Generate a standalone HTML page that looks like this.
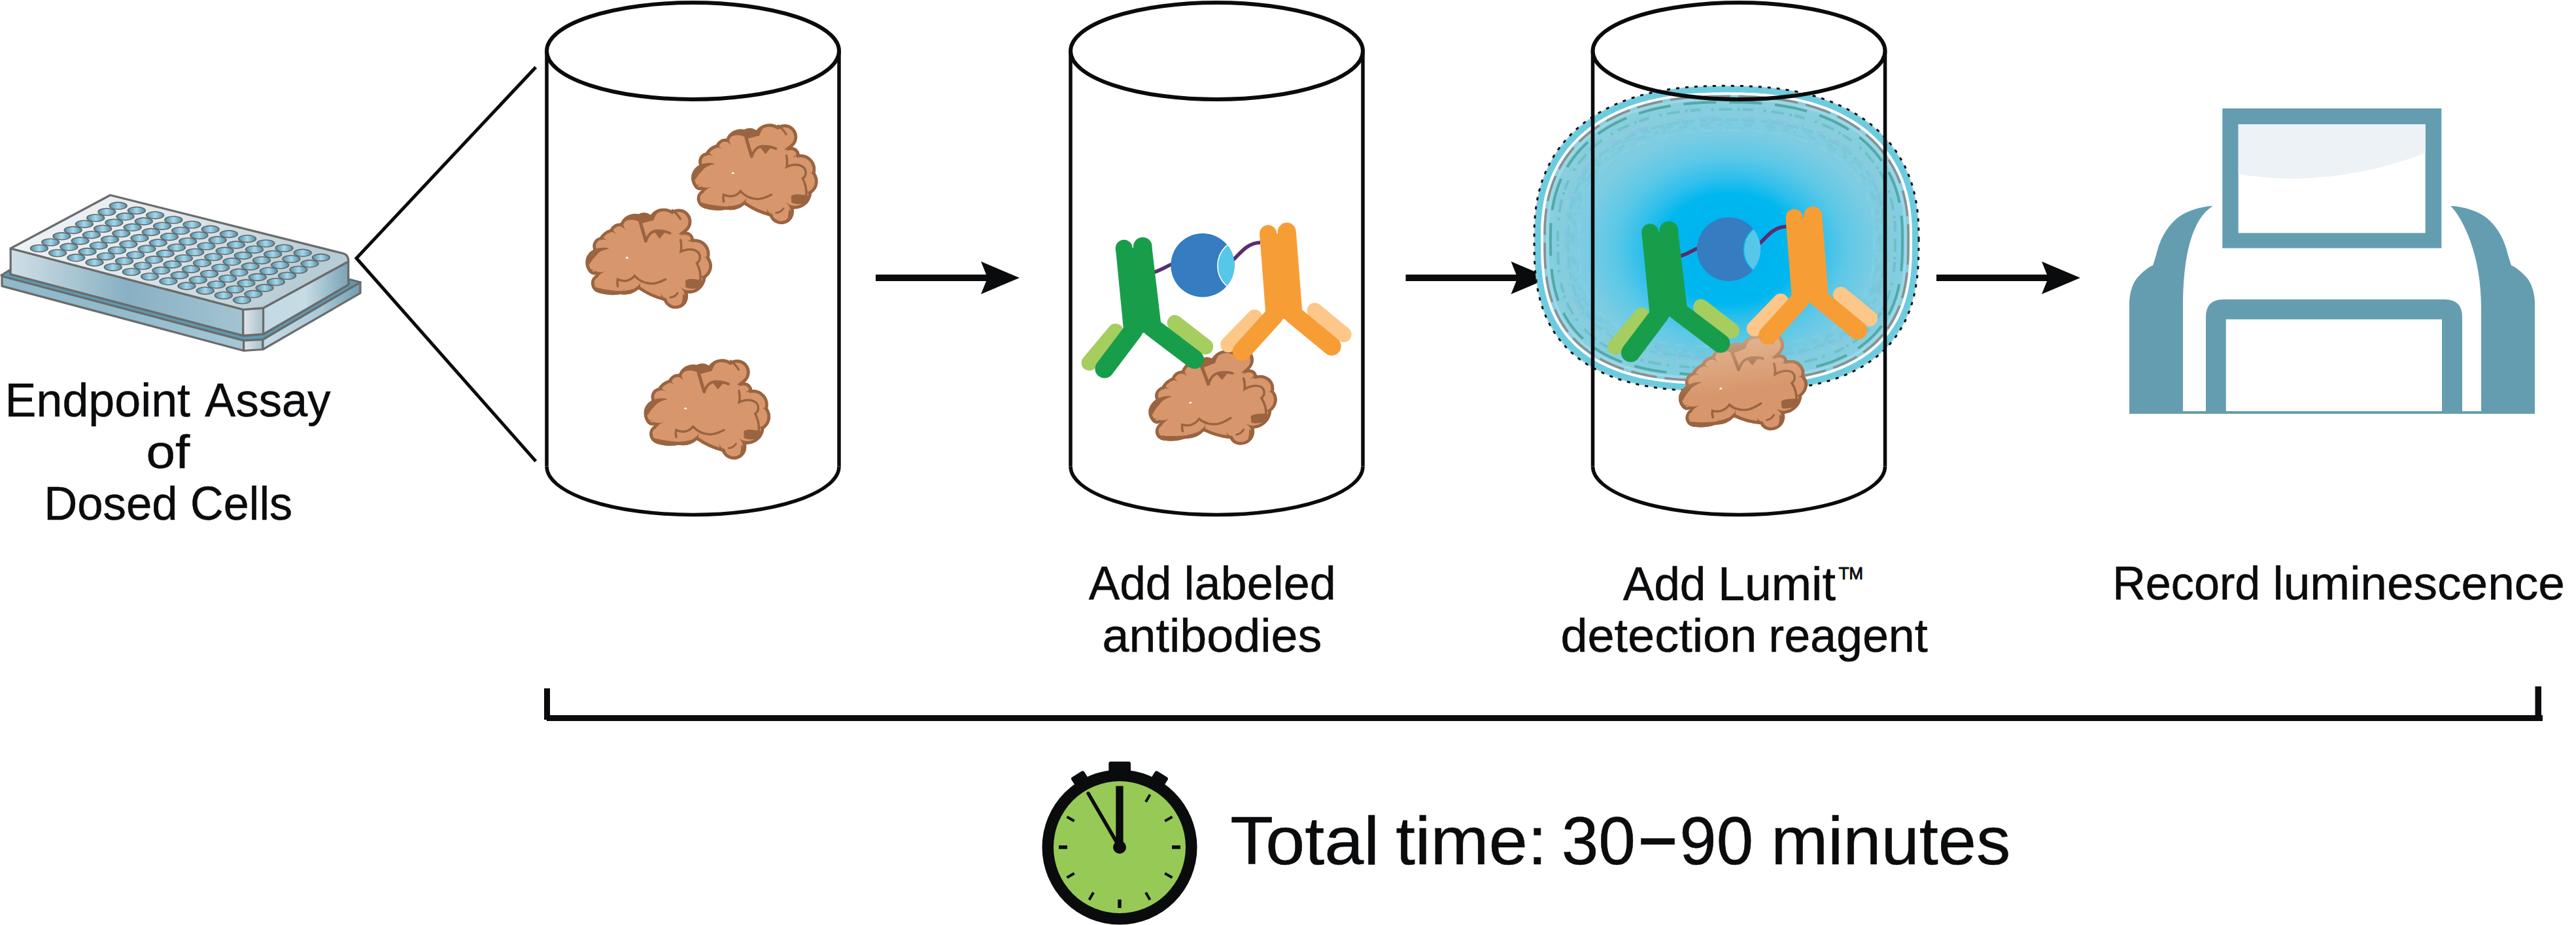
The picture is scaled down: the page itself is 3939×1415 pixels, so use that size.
<!DOCTYPE html>
<html><head><meta charset="utf-8"><style>
html,body{margin:0;padding:0;background:#fff;overflow:hidden}
svg{display:block}
text{font-family:"Liberation Sans",sans-serif}
</style></head><body>
<svg width="3939" height="1415" viewBox="0 0 3939 1415">
<defs>
<linearGradient id="wellg" x1="0" x2="1" y1="0" y2="0">
 <stop offset="0" stop-color="#4f8fa8"/><stop offset="0.5" stop-color="#a6d8ec"/><stop offset="1" stop-color="#4f8fa8"/>
</linearGradient>
<linearGradient id="topg" x1="0" x2="1" y1="0" y2="0.3">
 <stop offset="0" stop-color="#f2f6f8"/><stop offset="0.5" stop-color="#dfe8ec"/><stop offset="1" stop-color="#b8ccd5"/>
</linearGradient>
<linearGradient id="frontg" gradientUnits="userSpaceOnUse" x1="16" x2="372" y1="0" y2="0">
 <stop offset="0" stop-color="#d0dfe6"/><stop offset="0.5" stop-color="#88b0c3"/><stop offset="1" stop-color="#a3c4d2"/>
</linearGradient>
<linearGradient id="chamg" gradientUnits="userSpaceOnUse" x1="372" x2="402" y1="0" y2="0">
 <stop offset="0" stop-color="#e1e6ea"/><stop offset="1" stop-color="#a9bfca"/>
</linearGradient>
<linearGradient id="rightg" gradientUnits="userSpaceOnUse" x1="402" x2="533" y1="0" y2="0">
 <stop offset="0" stop-color="#c3dae4"/><stop offset="0.5" stop-color="#c6dbe4"/><stop offset="1" stop-color="#79a3b6"/>
</linearGradient>
<linearGradient id="skirtg" gradientUnits="userSpaceOnUse" x1="3" x2="372" y1="0" y2="0">
 <stop offset="0" stop-color="#8fb9cb"/><stop offset="0.5" stop-color="#92bbcc"/><stop offset="1" stop-color="#a6c8d6"/>
</linearGradient>
<linearGradient id="skirtrg" gradientUnits="userSpaceOnUse" x1="402" x2="551" y1="0" y2="0">
 <stop offset="0" stop-color="#c8dde6"/><stop offset="0.6" stop-color="#a9c9d6"/><stop offset="1" stop-color="#6e9fb4"/>
</linearGradient>
<clipPath id="blobclip"><path d="M60.0,570.0 A118.8,118.8 0 0 1 105.0,395.0 A76.0,76.0 0 0 1 160.0,290.0 A141.4,141.4 0 0 1 245.0,225.0 A82.0,82.0 0 0 1 330.0,175.0 A128.0,128.0 0 0 1 480.0,100.0 A95.2,95.2 0 0 1 580.0,105.0 A135.5,135.5 0 0 1 760.0,70.0 A106.3,106.3 0 0 1 880.0,245.0 A65.6,65.6 0 0 1 940.0,305.0 A125.0,125.0 0 0 1 1070.0,460.0 A120.4,120.4 0 0 1 1040.0,630.0 A141.1,141.1 0 0 1 890.0,760.0 A104.7,104.7 0 0 1 690.0,820.0 A630.0,630.0 0 0 1 480.0,725.0 A178.9,178.9 0 0 1 330.0,765.0 A361.2,361.2 0 0 1 150.0,755.0 A83.3,83.3 0 0 1 130.0,600.0 A53.6,53.6 0 0 1 60.0,570.0Z"/></clipPath><g id="blob">
<path d="M60.0,570.0 A118.8,118.8 0 0 1 105.0,395.0 A76.0,76.0 0 0 1 160.0,290.0 A141.4,141.4 0 0 1 245.0,225.0 A82.0,82.0 0 0 1 330.0,175.0 A128.0,128.0 0 0 1 480.0,100.0 A95.2,95.2 0 0 1 580.0,105.0 A135.5,135.5 0 0 1 760.0,70.0 A106.3,106.3 0 0 1 880.0,245.0 A65.6,65.6 0 0 1 940.0,305.0 A125.0,125.0 0 0 1 1070.0,460.0 A120.4,120.4 0 0 1 1040.0,630.0 A141.1,141.1 0 0 1 890.0,760.0 A104.7,104.7 0 0 1 690.0,820.0 A630.0,630.0 0 0 1 480.0,725.0 A178.9,178.9 0 0 1 330.0,765.0 A361.2,361.2 0 0 1 150.0,755.0 A83.3,83.3 0 0 1 130.0,600.0 A53.6,53.6 0 0 1 60.0,570.0Z" fill="#d8966c" stroke="#9a6440" stroke-width="52" clip-path="url(#blobclip)"/>
<g clip-path="url(#blobclip)" fill="#9a6440">
<path d="M35,470 C60,430 90,410 110,395 C150,375 200,372 235,385 C200,395 160,405 140,430 C100,470 80,500 70,520 Z"/>
<path d="M330,175 C380,140 430,110 480,100 C520,95 560,110 585,110 C600,80 630,62 660,60 C630,90 615,120 605,150 C560,160 530,170 505,175 C470,150 430,140 390,150 C360,160 340,180 330,185 Z"/>
<path d="M870,650 C900,630 960,640 1010,650 L1010,705 C960,725 900,722 872,708 Z"/>
<path d="M143.4,313.7 Q175.9,300.8 222.5,319.2 Q178.5,295.3 167.5,262.1 Z"/><path d="M225.0,241.6 Q256.3,238.1 293.8,264.8 Q260.1,233.4 257.3,202.1 Z"/><path d="M302.8,188.6 Q339.4,192.9 372.4,233.2 Q344.2,189.4 351.3,153.3 Z"/><path d="M457.0,99.0 Q479.6,115.3 489.9,156.1 Q485.6,114.3 501.3,91.2 Z"/><path d="M867.4,217.3 Q861.7,253.7 820.2,285.1 Q865.1,258.6 900.9,267.1 Z"/><path d="M934.8,279.5 Q923.2,308.8 881.9,329.3 Q925.5,314.3 954.4,326.6 Z"/><path d="M1074.6,440.4 Q1056.9,457.2 1019.0,461.0 Q1057.1,463.2 1075.4,479.4 Z"/><path d="M1053.1,605.8 Q1023.8,621.6 977.2,609.7 Q1021.9,627.3 1036.5,657.2 Z"/><path d="M917.0,735.7 Q873.6,742.3 825.7,706.0 Q869.7,746.9 870.7,790.8 Z"/><path d="M719.6,813.1 Q685.1,800.4 662.4,753.5 Q679.6,802.7 664.2,836.1 Z"/><path d="M504.9,736.5 Q487.4,708.3 496.3,661.0 Q481.5,706.8 452.6,723.2 Z"/><path d="M342.8,780.5 Q340.1,756.3 360.0,723.8 Q335.2,752.7 311.3,757.6 Z"/><path d="M157.4,773.7 Q162.3,749.8 191.4,725.2 Q158.8,745.0 134.5,742.1 Z"/><path d="M135.1,633.0 Q151.9,596.3 204.4,576.7 Q150.1,590.6 115.4,570.0 Z"/><path d="M96.3,416.3 Q119.3,400.5 161.2,404.6 Q120.3,394.6 103.9,372.0 Z"/><path d="M59.6,593.0 Q75.3,569.9 115.8,558.5 Q74.1,564.0 50.6,549.0 Z"/>
<path d="M100,700 C150,720 250,735 330,740 C400,735 440,720 480,712 L480,780 L100,780 Z"/>
<path d="M850,760 C870,780 880,800 890,830 L890,880 L820,880 C840,850 850,810 850,760 Z"/>
</g>
<path d="M495,168 L540,322" fill="none" stroke="#9a6440" stroke-width="27" stroke-linecap="round"/>
<path d="M540,322 C565,265 590,240 630,238 C675,236 715,245 742,258" fill="none" stroke="#9a6440" stroke-width="22" stroke-linecap="round"/>
<path d="M612,246 L700,250 L655,304 Z" fill="#9a6440"/>
<path d="M762,66 C790,85 810,110 828,138" fill="none" stroke="#9a6440" stroke-width="18" stroke-linecap="round"/>
<path d="M830,315 C838,350 838,380 832,410 C880,385 940,385 975,415 C1000,445 995,490 965,505" fill="none" stroke="#9a6440" stroke-width="19" stroke-linecap="round"/>
<path d="M965,505 C985,545 1000,600 995,650" fill="none" stroke="#9a6440" stroke-width="19" stroke-linecap="round"/>
<path d="M308,700 C303,680 303,660 307,642 C350,662 410,662 447,612 C480,650 540,682 600,677 C650,672 680,652 705,642" fill="none" stroke="#9a6440" stroke-width="19" stroke-linecap="round"/>
<path d="M745,792 C770,792 790,777 805,757" fill="none" stroke="#9a6440" stroke-width="17" stroke-linecap="round"/>
<path d="M370,468 L385,450 L400,468 Z" fill="#ffffff"/>
</g><g id="abs"><path d="M1762,417 C1775,414 1782,408 1792,404" fill="none" stroke="#5b2c6f" stroke-width="5.5"/><path d="M1884,399 C1895,390 1905,372 1927,371" fill="none" stroke="#5b2c6f" stroke-width="5.5"/><line x1="1705.8" y1="507" x2="1665.6" y2="555" stroke="#a5cd60" stroke-width="24" stroke-linecap="round"/><line x1="1796.6" y1="494" x2="1843.3" y2="530.3" stroke="#a5cd60" stroke-width="24" stroke-linecap="round"/><path d="M1705.8,379.8 L1761.5,378.5 L1775,492.7 L1748.6,509.5 L1718,504.3 Z" fill="#189e4a"/><circle cx="1718.7" cy="379.8" r="13" fill="#189e4a"/><circle cx="1747.3" cy="377.2" r="14.3" fill="#189e4a"/><line x1="1733" y1="505.6" x2="1688.9" y2="564" stroke="#189e4a" stroke-width="29" stroke-linecap="round"/><line x1="1761.5" y1="500.5" x2="1826.4" y2="549.7" stroke="#189e4a" stroke-width="29" stroke-linecap="round"/><line x1="1918.4" y1="485.6" x2="1878.2" y2="527.1" stroke="#fcc789" stroke-width="24" stroke-linecap="round"/><line x1="2010.5" y1="475.3" x2="2054.6" y2="511.6" stroke="#fcc789" stroke-width="24" stroke-linecap="round"/><path d="M1926.1,358.5 L1981.9,356 L1991,472.7 L1963.8,488.2 L1935.2,477.9 Z" fill="#f79d36"/><circle cx="1939.1" cy="357.2" r="13" fill="#f79d36"/><circle cx="1967.7" cy="354.6" r="14" fill="#f79d36"/><line x1="1948.2" y1="483" x2="1898.9" y2="537.5" stroke="#f79d36" stroke-width="28.5" stroke-linecap="round"/><line x1="1976.7" y1="480.5" x2="2036.4" y2="529.7" stroke="#f79d36" stroke-width="28.5" stroke-linecap="round"/><circle cx="1839" cy="405.8" r="48.7" fill="#357cc0"/><clipPath id="cc1"><circle cx="1839" cy="405.8" r="48.7"/></clipPath><circle cx="1903" cy="406.5" r="41.2" fill="#56c7e8" stroke="currentColor" stroke-width="1.6" clip-path="url(#cc1)"/></g><linearGradient id="blobfade" x1="0" y1="0" x2="0" y2="1"><stop offset="0" stop-color="#e8c8a8" stop-opacity="0.6"/><stop offset="0.55" stop-color="#e8c8a8" stop-opacity="0"/></linearGradient>
<radialGradient id="glow" cx="0.508" cy="0.533" r="0.5">
<stop offset="0" stop-color="#00b3ef"/><stop offset="0.36" stop-color="#00b7ef"/><stop offset="0.46" stop-color="#2ebfec"/><stop offset="0.6" stop-color="#5cc8e7"/><stop offset="0.76" stop-color="#7bcce2"/><stop offset="0.9" stop-color="#84cee0"/><stop offset="1" stop-color="#8acfde"/>
</radialGradient></defs>
<rect width="3939" height="1415" fill="#fff"/>
<g><path d="M2,421 L14,413.5 L16,419.5 L372,513.4 L402.6,511.2 L533,435.6 L533,427 L551,431.8 L402,519.5 L372.7,521 L3.8,423.8 Z" fill="#5c9ab3" stroke="#6b6b6b" stroke-width="3.2" stroke-linejoin="round"/><path d="M3,422.5 L372.7,521 L372.7,536.5 L3,437.6 Z" fill="url(#skirtg)" stroke="#6b6b6b" stroke-width="3.2" stroke-linejoin="round"/><path d="M372.7,521 L402,519.5 L402,534.5 L372.7,536.5 Z" fill="url(#chamg)" stroke="#6b6b6b" stroke-width="3.2" stroke-linejoin="round"/><path d="M402,519.5 L551,431.8 L551,448.4 L402,534.5 Z" fill="url(#skirtrg)" stroke="#6b6b6b" stroke-width="3.2" stroke-linejoin="round"/><path d="M16.2,380 L371.8,473.5 L371.8,513.4 L16.2,419.5 Z" fill="url(#frontg)" stroke="#6b6b6b" stroke-width="3.2" stroke-linejoin="round"/><path d="M371.8,473.5 L402.6,471.1 L402.6,511.2 L371.8,513.4 Z" fill="url(#chamg)" stroke="#6b6b6b" stroke-width="3.2" stroke-linejoin="round"/><path d="M402.6,471.1 L532.7,400 L532.7,435.6 L402.6,511.2 Z" fill="url(#rightg)" stroke="#6b6b6b" stroke-width="3.2" stroke-linejoin="round"/><path d="M168.6,298.5 L526,388 Q533,391 532.7,400 L402.6,471.1 L371.8,473.5 L16.2,380 Z" fill="url(#topg)" stroke="#6b6b6b" stroke-width="3.2" stroke-linejoin="round"/><ellipse cx="180.7" cy="314.8" rx="13.4" ry="5.4" fill="url(#wellg)" stroke="#666" stroke-width="1.6"/><ellipse cx="208.9" cy="322.0" rx="13.4" ry="5.4" fill="url(#wellg)" stroke="#666" stroke-width="1.6"/><ellipse cx="237.1" cy="329.2" rx="13.4" ry="5.4" fill="url(#wellg)" stroke="#666" stroke-width="1.6"/><ellipse cx="265.3" cy="336.4" rx="13.4" ry="5.4" fill="url(#wellg)" stroke="#666" stroke-width="1.6"/><ellipse cx="293.5" cy="343.6" rx="13.4" ry="5.4" fill="url(#wellg)" stroke="#666" stroke-width="1.6"/><ellipse cx="321.7" cy="350.8" rx="13.4" ry="5.4" fill="url(#wellg)" stroke="#666" stroke-width="1.6"/><ellipse cx="349.9" cy="358.0" rx="13.4" ry="5.4" fill="url(#wellg)" stroke="#666" stroke-width="1.6"/><ellipse cx="378.1" cy="365.2" rx="13.4" ry="5.4" fill="url(#wellg)" stroke="#666" stroke-width="1.6"/><ellipse cx="406.3" cy="372.4" rx="13.4" ry="5.4" fill="url(#wellg)" stroke="#666" stroke-width="1.6"/><ellipse cx="434.5" cy="379.6" rx="13.4" ry="5.4" fill="url(#wellg)" stroke="#666" stroke-width="1.6"/><ellipse cx="462.7" cy="386.8" rx="13.4" ry="5.4" fill="url(#wellg)" stroke="#666" stroke-width="1.6"/><ellipse cx="490.9" cy="394.0" rx="13.4" ry="5.4" fill="url(#wellg)" stroke="#666" stroke-width="1.6"/><ellipse cx="163.4" cy="324.1" rx="13.4" ry="5.4" fill="url(#wellg)" stroke="#666" stroke-width="1.6"/><ellipse cx="191.6" cy="331.3" rx="13.4" ry="5.4" fill="url(#wellg)" stroke="#666" stroke-width="1.6"/><ellipse cx="219.8" cy="338.5" rx="13.4" ry="5.4" fill="url(#wellg)" stroke="#666" stroke-width="1.6"/><ellipse cx="248.0" cy="345.7" rx="13.4" ry="5.4" fill="url(#wellg)" stroke="#666" stroke-width="1.6"/><ellipse cx="276.2" cy="352.9" rx="13.4" ry="5.4" fill="url(#wellg)" stroke="#666" stroke-width="1.6"/><ellipse cx="304.4" cy="360.1" rx="13.4" ry="5.4" fill="url(#wellg)" stroke="#666" stroke-width="1.6"/><ellipse cx="332.6" cy="367.3" rx="13.4" ry="5.4" fill="url(#wellg)" stroke="#666" stroke-width="1.6"/><ellipse cx="360.9" cy="374.5" rx="13.4" ry="5.4" fill="url(#wellg)" stroke="#666" stroke-width="1.6"/><ellipse cx="389.0" cy="381.7" rx="13.4" ry="5.4" fill="url(#wellg)" stroke="#666" stroke-width="1.6"/><ellipse cx="417.2" cy="388.9" rx="13.4" ry="5.4" fill="url(#wellg)" stroke="#666" stroke-width="1.6"/><ellipse cx="445.4" cy="396.1" rx="13.4" ry="5.4" fill="url(#wellg)" stroke="#666" stroke-width="1.6"/><ellipse cx="473.6" cy="403.3" rx="13.4" ry="5.4" fill="url(#wellg)" stroke="#666" stroke-width="1.6"/><ellipse cx="146.2" cy="333.4" rx="13.4" ry="5.4" fill="url(#wellg)" stroke="#666" stroke-width="1.6"/><ellipse cx="174.4" cy="340.6" rx="13.4" ry="5.4" fill="url(#wellg)" stroke="#666" stroke-width="1.6"/><ellipse cx="202.6" cy="347.8" rx="13.4" ry="5.4" fill="url(#wellg)" stroke="#666" stroke-width="1.6"/><ellipse cx="230.8" cy="355.0" rx="13.4" ry="5.4" fill="url(#wellg)" stroke="#666" stroke-width="1.6"/><ellipse cx="259.0" cy="362.2" rx="13.4" ry="5.4" fill="url(#wellg)" stroke="#666" stroke-width="1.6"/><ellipse cx="287.2" cy="369.4" rx="13.4" ry="5.4" fill="url(#wellg)" stroke="#666" stroke-width="1.6"/><ellipse cx="315.4" cy="376.6" rx="13.4" ry="5.4" fill="url(#wellg)" stroke="#666" stroke-width="1.6"/><ellipse cx="343.6" cy="383.8" rx="13.4" ry="5.4" fill="url(#wellg)" stroke="#666" stroke-width="1.6"/><ellipse cx="371.8" cy="391.0" rx="13.4" ry="5.4" fill="url(#wellg)" stroke="#666" stroke-width="1.6"/><ellipse cx="400.0" cy="398.2" rx="13.4" ry="5.4" fill="url(#wellg)" stroke="#666" stroke-width="1.6"/><ellipse cx="428.2" cy="405.4" rx="13.4" ry="5.4" fill="url(#wellg)" stroke="#666" stroke-width="1.6"/><ellipse cx="456.4" cy="412.6" rx="13.4" ry="5.4" fill="url(#wellg)" stroke="#666" stroke-width="1.6"/><ellipse cx="128.9" cy="342.7" rx="13.4" ry="5.4" fill="url(#wellg)" stroke="#666" stroke-width="1.6"/><ellipse cx="157.1" cy="349.9" rx="13.4" ry="5.4" fill="url(#wellg)" stroke="#666" stroke-width="1.6"/><ellipse cx="185.3" cy="357.1" rx="13.4" ry="5.4" fill="url(#wellg)" stroke="#666" stroke-width="1.6"/><ellipse cx="213.5" cy="364.3" rx="13.4" ry="5.4" fill="url(#wellg)" stroke="#666" stroke-width="1.6"/><ellipse cx="241.8" cy="371.5" rx="13.4" ry="5.4" fill="url(#wellg)" stroke="#666" stroke-width="1.6"/><ellipse cx="269.9" cy="378.7" rx="13.4" ry="5.4" fill="url(#wellg)" stroke="#666" stroke-width="1.6"/><ellipse cx="298.1" cy="385.9" rx="13.4" ry="5.4" fill="url(#wellg)" stroke="#666" stroke-width="1.6"/><ellipse cx="326.4" cy="393.1" rx="13.4" ry="5.4" fill="url(#wellg)" stroke="#666" stroke-width="1.6"/><ellipse cx="354.5" cy="400.3" rx="13.4" ry="5.4" fill="url(#wellg)" stroke="#666" stroke-width="1.6"/><ellipse cx="382.8" cy="407.5" rx="13.4" ry="5.4" fill="url(#wellg)" stroke="#666" stroke-width="1.6"/><ellipse cx="410.9" cy="414.7" rx="13.4" ry="5.4" fill="url(#wellg)" stroke="#666" stroke-width="1.6"/><ellipse cx="439.1" cy="421.9" rx="13.4" ry="5.4" fill="url(#wellg)" stroke="#666" stroke-width="1.6"/><ellipse cx="111.7" cy="352.0" rx="13.4" ry="5.4" fill="url(#wellg)" stroke="#666" stroke-width="1.6"/><ellipse cx="139.9" cy="359.2" rx="13.4" ry="5.4" fill="url(#wellg)" stroke="#666" stroke-width="1.6"/><ellipse cx="168.1" cy="366.4" rx="13.4" ry="5.4" fill="url(#wellg)" stroke="#666" stroke-width="1.6"/><ellipse cx="196.3" cy="373.6" rx="13.4" ry="5.4" fill="url(#wellg)" stroke="#666" stroke-width="1.6"/><ellipse cx="224.5" cy="380.8" rx="13.4" ry="5.4" fill="url(#wellg)" stroke="#666" stroke-width="1.6"/><ellipse cx="252.7" cy="388.0" rx="13.4" ry="5.4" fill="url(#wellg)" stroke="#666" stroke-width="1.6"/><ellipse cx="280.9" cy="395.2" rx="13.4" ry="5.4" fill="url(#wellg)" stroke="#666" stroke-width="1.6"/><ellipse cx="309.1" cy="402.4" rx="13.4" ry="5.4" fill="url(#wellg)" stroke="#666" stroke-width="1.6"/><ellipse cx="337.3" cy="409.6" rx="13.4" ry="5.4" fill="url(#wellg)" stroke="#666" stroke-width="1.6"/><ellipse cx="365.5" cy="416.8" rx="13.4" ry="5.4" fill="url(#wellg)" stroke="#666" stroke-width="1.6"/><ellipse cx="393.7" cy="424.0" rx="13.4" ry="5.4" fill="url(#wellg)" stroke="#666" stroke-width="1.6"/><ellipse cx="421.9" cy="431.2" rx="13.4" ry="5.4" fill="url(#wellg)" stroke="#666" stroke-width="1.6"/><ellipse cx="94.4" cy="361.3" rx="13.4" ry="5.4" fill="url(#wellg)" stroke="#666" stroke-width="1.6"/><ellipse cx="122.6" cy="368.5" rx="13.4" ry="5.4" fill="url(#wellg)" stroke="#666" stroke-width="1.6"/><ellipse cx="150.8" cy="375.7" rx="13.4" ry="5.4" fill="url(#wellg)" stroke="#666" stroke-width="1.6"/><ellipse cx="179.0" cy="382.9" rx="13.4" ry="5.4" fill="url(#wellg)" stroke="#666" stroke-width="1.6"/><ellipse cx="207.2" cy="390.1" rx="13.4" ry="5.4" fill="url(#wellg)" stroke="#666" stroke-width="1.6"/><ellipse cx="235.4" cy="397.3" rx="13.4" ry="5.4" fill="url(#wellg)" stroke="#666" stroke-width="1.6"/><ellipse cx="263.6" cy="404.5" rx="13.4" ry="5.4" fill="url(#wellg)" stroke="#666" stroke-width="1.6"/><ellipse cx="291.9" cy="411.7" rx="13.4" ry="5.4" fill="url(#wellg)" stroke="#666" stroke-width="1.6"/><ellipse cx="320.0" cy="418.9" rx="13.4" ry="5.4" fill="url(#wellg)" stroke="#666" stroke-width="1.6"/><ellipse cx="348.2" cy="426.1" rx="13.4" ry="5.4" fill="url(#wellg)" stroke="#666" stroke-width="1.6"/><ellipse cx="376.4" cy="433.3" rx="13.4" ry="5.4" fill="url(#wellg)" stroke="#666" stroke-width="1.6"/><ellipse cx="404.6" cy="440.5" rx="13.4" ry="5.4" fill="url(#wellg)" stroke="#666" stroke-width="1.6"/><ellipse cx="77.2" cy="370.6" rx="13.4" ry="5.4" fill="url(#wellg)" stroke="#666" stroke-width="1.6"/><ellipse cx="105.4" cy="377.8" rx="13.4" ry="5.4" fill="url(#wellg)" stroke="#666" stroke-width="1.6"/><ellipse cx="133.6" cy="385.0" rx="13.4" ry="5.4" fill="url(#wellg)" stroke="#666" stroke-width="1.6"/><ellipse cx="161.8" cy="392.2" rx="13.4" ry="5.4" fill="url(#wellg)" stroke="#666" stroke-width="1.6"/><ellipse cx="190.0" cy="399.4" rx="13.4" ry="5.4" fill="url(#wellg)" stroke="#666" stroke-width="1.6"/><ellipse cx="218.2" cy="406.6" rx="13.4" ry="5.4" fill="url(#wellg)" stroke="#666" stroke-width="1.6"/><ellipse cx="246.4" cy="413.8" rx="13.4" ry="5.4" fill="url(#wellg)" stroke="#666" stroke-width="1.6"/><ellipse cx="274.6" cy="421.0" rx="13.4" ry="5.4" fill="url(#wellg)" stroke="#666" stroke-width="1.6"/><ellipse cx="302.8" cy="428.2" rx="13.4" ry="5.4" fill="url(#wellg)" stroke="#666" stroke-width="1.6"/><ellipse cx="331.0" cy="435.4" rx="13.4" ry="5.4" fill="url(#wellg)" stroke="#666" stroke-width="1.6"/><ellipse cx="359.2" cy="442.6" rx="13.4" ry="5.4" fill="url(#wellg)" stroke="#666" stroke-width="1.6"/><ellipse cx="387.4" cy="449.8" rx="13.4" ry="5.4" fill="url(#wellg)" stroke="#666" stroke-width="1.6"/><ellipse cx="59.9" cy="379.9" rx="13.4" ry="5.4" fill="url(#wellg)" stroke="#666" stroke-width="1.6"/><ellipse cx="88.1" cy="387.1" rx="13.4" ry="5.4" fill="url(#wellg)" stroke="#666" stroke-width="1.6"/><ellipse cx="116.3" cy="394.3" rx="13.4" ry="5.4" fill="url(#wellg)" stroke="#666" stroke-width="1.6"/><ellipse cx="144.5" cy="401.5" rx="13.4" ry="5.4" fill="url(#wellg)" stroke="#666" stroke-width="1.6"/><ellipse cx="172.8" cy="408.7" rx="13.4" ry="5.4" fill="url(#wellg)" stroke="#666" stroke-width="1.6"/><ellipse cx="200.9" cy="415.9" rx="13.4" ry="5.4" fill="url(#wellg)" stroke="#666" stroke-width="1.6"/><ellipse cx="229.1" cy="423.1" rx="13.4" ry="5.4" fill="url(#wellg)" stroke="#666" stroke-width="1.6"/><ellipse cx="257.4" cy="430.3" rx="13.4" ry="5.4" fill="url(#wellg)" stroke="#666" stroke-width="1.6"/><ellipse cx="285.5" cy="437.5" rx="13.4" ry="5.4" fill="url(#wellg)" stroke="#666" stroke-width="1.6"/><ellipse cx="313.8" cy="444.7" rx="13.4" ry="5.4" fill="url(#wellg)" stroke="#666" stroke-width="1.6"/><ellipse cx="341.9" cy="451.9" rx="13.4" ry="5.4" fill="url(#wellg)" stroke="#666" stroke-width="1.6"/><ellipse cx="370.1" cy="459.1" rx="13.4" ry="5.4" fill="url(#wellg)" stroke="#666" stroke-width="1.6"/></g><polyline points="819.3,102.7 545,395 819.3,705.7" fill="none" stroke="#0a0b0d" stroke-width="5" stroke-linejoin="miter"/><ellipse cx="1059.5" cy="78" rx="223.5" ry="74" fill="none" stroke="#0a0b0d" stroke-width="6"/><line x1="836.0" y1="78" x2="836.0" y2="713.5" stroke="#0a0b0d" stroke-width="5.5"/><line x1="1283.0" y1="78" x2="1283.0" y2="713.5" stroke="#0a0b0d" stroke-width="5.5"/><path d="M836.0,713.5 A223.5,74 0 0 0 1283.0,713.5" fill="none" stroke="#0a0b0d" stroke-width="5.5"/><use href="#blob" transform="translate(1050,180) scale(0.18372,0.18372)"/><use href="#blob" transform="translate(888.2,309.4) scale(0.18372,0.18372)"/><use href="#blob" transform="translate(977.4,540.0) scale(0.18372,0.18372)"/><rect x="1339" y="420" width="172" height="10" fill="#0a0b0d"/><path d="M1500,400 L1559,425 L1500,450 L1510,425 Z" fill="#0a0b0d"/><ellipse cx="1860.5" cy="78" rx="223.5" ry="74" fill="none" stroke="#0a0b0d" stroke-width="6"/><line x1="1637.0" y1="78" x2="1637.0" y2="713.5" stroke="#0a0b0d" stroke-width="5.5"/><line x1="2084.0" y1="78" x2="2084.0" y2="713.5" stroke="#0a0b0d" stroke-width="5.5"/><path d="M1637.0,713.5 A223.5,74 0 0 0 2084.0,713.5" fill="none" stroke="#0a0b0d" stroke-width="5.5"/><use href="#blob" transform="matrix(0.18613,-0.02555,0.01039,0.17593,1743.9,544.56)"/><use href="#abs" color="#ffffff"/><rect x="2149.5" y="420" width="172" height="10" fill="#0a0b0d"/><path d="M2310.5,400 L2369.5,425 L2310.5,450 L2320.5,425 Z" fill="#0a0b0d"/><path d="M2934.0,364.9 L2933.9,381.4 L2933.7,392.2 L2933.3,401.6 L2932.8,410.1 L2932.2,418.0 L2931.4,425.5 L2930.4,432.6 L2929.3,439.4 L2928.1,446.0 L2926.7,452.3 L2925.1,458.4 L2923.5,464.3 L2921.6,470.1 L2919.7,475.7 L2917.5,481.1 L2915.3,486.3 L2912.9,491.5 L2910.3,496.4 L2907.6,501.3 L2904.8,506.0 L2901.8,510.6 L2898.7,515.1 L2895.4,519.4 L2892.0,523.6 L2888.4,527.7 L2884.7,531.7 L2880.9,535.6 L2876.9,539.3 L2872.8,542.9 L2868.5,546.5 L2864.1,549.9 L2859.5,553.1 L2854.8,556.3 L2849.9,559.4 L2844.9,562.3 L2839.8,565.1 L2834.4,567.8 L2829.0,570.4 L2823.4,572.9 L2817.6,575.3 L2811.7,577.6 L2805.5,579.7 L2799.3,581.7 L2792.8,583.6 L2786.2,585.4 L2779.4,587.1 L2772.4,588.7 L2765.1,590.1 L2757.7,591.5 L2750.0,592.7 L2742.1,593.8 L2733.8,594.8 L2725.2,595.6 L2716.3,596.4 L2706.9,597.0 L2696.9,597.6 L2686.2,598.0 L2674.4,598.3 L2660.8,598.4 L2640.0,598.5 L2619.2,598.4 L2605.6,598.3 L2593.8,598.0 L2583.1,597.6 L2573.1,597.0 L2563.7,596.4 L2554.8,595.6 L2546.2,594.8 L2537.9,593.8 L2530.0,592.7 L2522.3,591.5 L2514.9,590.1 L2507.6,588.7 L2500.6,587.1 L2493.8,585.4 L2487.2,583.6 L2480.7,581.7 L2474.5,579.7 L2468.3,577.6 L2462.4,575.3 L2456.6,572.9 L2451.0,570.4 L2445.6,567.8 L2440.2,565.1 L2435.1,562.3 L2430.1,559.4 L2425.2,556.3 L2420.5,553.1 L2415.9,549.9 L2411.5,546.5 L2407.2,542.9 L2403.1,539.3 L2399.1,535.6 L2395.3,531.7 L2391.6,527.7 L2388.0,523.6 L2384.6,519.4 L2381.3,515.1 L2378.2,510.6 L2375.2,506.0 L2372.4,501.3 L2369.7,496.4 L2367.1,491.5 L2364.7,486.3 L2362.5,481.1 L2360.3,475.7 L2358.4,470.1 L2356.5,464.3 L2354.9,458.4 L2353.3,452.3 L2351.9,446.0 L2350.7,439.4 L2349.6,432.6 L2348.6,425.5 L2347.8,418.0 L2347.2,410.1 L2346.7,401.6 L2346.3,392.2 L2346.1,381.4 L2346.0,364.9 L2346.1,353.7 L2346.3,344.9 L2346.8,336.9 L2347.3,329.3 L2348.1,322.1 L2349.0,315.1 L2350.1,308.4 L2351.4,301.8 L2352.8,295.4 L2354.4,289.2 L2356.1,283.1 L2358.0,277.1 L2360.1,271.3 L2362.4,265.6 L2364.8,260.0 L2367.3,254.5 L2370.1,249.2 L2373.0,243.9 L2376.0,238.8 L2379.2,233.8 L2382.6,228.9 L2386.1,224.1 L2389.8,219.4 L2393.6,214.9 L2397.6,210.4 L2401.7,206.1 L2406.0,201.9 L2410.4,197.8 L2415.0,193.8 L2419.7,189.9 L2424.6,186.1 L2429.7,182.5 L2434.8,179.0 L2440.1,175.6 L2445.6,172.3 L2451.2,169.1 L2456.9,166.1 L2462.8,163.2 L2468.8,160.4 L2475.0,157.7 L2481.3,155.1 L2487.8,152.7 L2494.3,150.4 L2501.1,148.3 L2508.0,146.2 L2515.0,144.3 L2522.2,142.5 L2529.5,140.9 L2537.0,139.3 L2544.7,138.0 L2552.5,136.7 L2560.6,135.6 L2568.8,134.6 L2577.3,133.7 L2586.1,133.0 L2595.2,132.4 L2604.7,131.9 L2614.8,131.6 L2625.9,131.4 L2640.0,131.3 L2654.1,131.4 L2665.2,131.6 L2675.3,131.9 L2684.8,132.4 L2693.9,133.0 L2702.7,133.7 L2711.2,134.6 L2719.4,135.6 L2727.5,136.7 L2735.3,138.0 L2743.0,139.3 L2750.5,140.9 L2757.8,142.5 L2765.0,144.3 L2772.0,146.2 L2778.9,148.3 L2785.7,150.4 L2792.2,152.7 L2798.7,155.1 L2805.0,157.7 L2811.2,160.4 L2817.2,163.2 L2823.1,166.1 L2828.8,169.1 L2834.4,172.3 L2839.9,175.6 L2845.2,179.0 L2850.3,182.5 L2855.4,186.1 L2860.3,189.9 L2865.0,193.8 L2869.6,197.8 L2874.0,201.9 L2878.3,206.1 L2882.4,210.4 L2886.4,214.9 L2890.2,219.4 L2893.9,224.1 L2897.4,228.9 L2900.8,233.8 L2904.0,238.8 L2907.0,243.9 L2909.9,249.2 L2912.7,254.5 L2915.2,260.0 L2917.6,265.6 L2919.9,271.3 L2922.0,277.1 L2923.9,283.1 L2925.6,289.2 L2927.2,295.4 L2928.6,301.8 L2929.9,308.4 L2931.0,315.1 L2931.9,322.1 L2932.7,329.3 L2933.2,336.9 L2933.7,344.9 L2933.9,353.7Z" fill="url(#glow)"/><path d="M2934.0,364.9 L2933.9,381.4 L2933.7,392.2 L2933.3,401.6 L2932.8,410.1 L2932.2,418.0 L2931.4,425.5 L2930.4,432.6 L2929.3,439.4 L2928.1,446.0 L2926.7,452.3 L2925.1,458.4 L2923.5,464.3 L2921.6,470.1 L2919.7,475.7 L2917.5,481.1 L2915.3,486.3 L2912.9,491.5 L2910.3,496.4 L2907.6,501.3 L2904.8,506.0 L2901.8,510.6 L2898.7,515.1 L2895.4,519.4 L2892.0,523.6 L2888.4,527.7 L2884.7,531.7 L2880.9,535.6 L2876.9,539.3 L2872.8,542.9 L2868.5,546.5 L2864.1,549.9 L2859.5,553.1 L2854.8,556.3 L2849.9,559.4 L2844.9,562.3 L2839.8,565.1 L2834.4,567.8 L2829.0,570.4 L2823.4,572.9 L2817.6,575.3 L2811.7,577.6 L2805.5,579.7 L2799.3,581.7 L2792.8,583.6 L2786.2,585.4 L2779.4,587.1 L2772.4,588.7 L2765.1,590.1 L2757.7,591.5 L2750.0,592.7 L2742.1,593.8 L2733.8,594.8 L2725.2,595.6 L2716.3,596.4 L2706.9,597.0 L2696.9,597.6 L2686.2,598.0 L2674.4,598.3 L2660.8,598.4 L2640.0,598.5 L2619.2,598.4 L2605.6,598.3 L2593.8,598.0 L2583.1,597.6 L2573.1,597.0 L2563.7,596.4 L2554.8,595.6 L2546.2,594.8 L2537.9,593.8 L2530.0,592.7 L2522.3,591.5 L2514.9,590.1 L2507.6,588.7 L2500.6,587.1 L2493.8,585.4 L2487.2,583.6 L2480.7,581.7 L2474.5,579.7 L2468.3,577.6 L2462.4,575.3 L2456.6,572.9 L2451.0,570.4 L2445.6,567.8 L2440.2,565.1 L2435.1,562.3 L2430.1,559.4 L2425.2,556.3 L2420.5,553.1 L2415.9,549.9 L2411.5,546.5 L2407.2,542.9 L2403.1,539.3 L2399.1,535.6 L2395.3,531.7 L2391.6,527.7 L2388.0,523.6 L2384.6,519.4 L2381.3,515.1 L2378.2,510.6 L2375.2,506.0 L2372.4,501.3 L2369.7,496.4 L2367.1,491.5 L2364.7,486.3 L2362.5,481.1 L2360.3,475.7 L2358.4,470.1 L2356.5,464.3 L2354.9,458.4 L2353.3,452.3 L2351.9,446.0 L2350.7,439.4 L2349.6,432.6 L2348.6,425.5 L2347.8,418.0 L2347.2,410.1 L2346.7,401.6 L2346.3,392.2 L2346.1,381.4 L2346.0,364.9 L2346.1,353.7 L2346.3,344.9 L2346.8,336.9 L2347.3,329.3 L2348.1,322.1 L2349.0,315.1 L2350.1,308.4 L2351.4,301.8 L2352.8,295.4 L2354.4,289.2 L2356.1,283.1 L2358.0,277.1 L2360.1,271.3 L2362.4,265.6 L2364.8,260.0 L2367.3,254.5 L2370.1,249.2 L2373.0,243.9 L2376.0,238.8 L2379.2,233.8 L2382.6,228.9 L2386.1,224.1 L2389.8,219.4 L2393.6,214.9 L2397.6,210.4 L2401.7,206.1 L2406.0,201.9 L2410.4,197.8 L2415.0,193.8 L2419.7,189.9 L2424.6,186.1 L2429.7,182.5 L2434.8,179.0 L2440.1,175.6 L2445.6,172.3 L2451.2,169.1 L2456.9,166.1 L2462.8,163.2 L2468.8,160.4 L2475.0,157.7 L2481.3,155.1 L2487.8,152.7 L2494.3,150.4 L2501.1,148.3 L2508.0,146.2 L2515.0,144.3 L2522.2,142.5 L2529.5,140.9 L2537.0,139.3 L2544.7,138.0 L2552.5,136.7 L2560.6,135.6 L2568.8,134.6 L2577.3,133.7 L2586.1,133.0 L2595.2,132.4 L2604.7,131.9 L2614.8,131.6 L2625.9,131.4 L2640.0,131.3 L2654.1,131.4 L2665.2,131.6 L2675.3,131.9 L2684.8,132.4 L2693.9,133.0 L2702.7,133.7 L2711.2,134.6 L2719.4,135.6 L2727.5,136.7 L2735.3,138.0 L2743.0,139.3 L2750.5,140.9 L2757.8,142.5 L2765.0,144.3 L2772.0,146.2 L2778.9,148.3 L2785.7,150.4 L2792.2,152.7 L2798.7,155.1 L2805.0,157.7 L2811.2,160.4 L2817.2,163.2 L2823.1,166.1 L2828.8,169.1 L2834.4,172.3 L2839.9,175.6 L2845.2,179.0 L2850.3,182.5 L2855.4,186.1 L2860.3,189.9 L2865.0,193.8 L2869.6,197.8 L2874.0,201.9 L2878.3,206.1 L2882.4,210.4 L2886.4,214.9 L2890.2,219.4 L2893.9,224.1 L2897.4,228.9 L2900.8,233.8 L2904.0,238.8 L2907.0,243.9 L2909.9,249.2 L2912.7,254.5 L2915.2,260.0 L2917.6,265.6 L2919.9,271.3 L2922.0,277.1 L2923.9,283.1 L2925.6,289.2 L2927.2,295.4 L2928.6,301.8 L2929.9,308.4 L2931.0,315.1 L2931.9,322.1 L2932.7,329.3 L2933.2,336.9 L2933.7,344.9 L2933.9,353.7Z" fill="none" stroke="#111" stroke-width="3" stroke-dasharray="5 9"/><path d="M2928.0,364.9 L2927.9,381.0 L2927.7,391.5 L2927.4,400.7 L2926.9,408.9 L2926.2,416.7 L2925.4,424.0 L2924.5,430.9 L2923.4,437.5 L2922.2,443.9 L2920.8,450.1 L2919.3,456.0 L2917.7,461.8 L2915.9,467.4 L2914.0,472.8 L2911.9,478.1 L2909.7,483.2 L2907.3,488.2 L2904.8,493.1 L2902.2,497.8 L2899.4,502.4 L2896.5,506.9 L2893.4,511.2 L2890.2,515.4 L2886.9,519.5 L2883.4,523.5 L2879.7,527.4 L2876.0,531.2 L2872.1,534.8 L2868.0,538.4 L2863.8,541.8 L2859.5,545.1 L2855.0,548.3 L2850.4,551.4 L2845.6,554.4 L2840.7,557.2 L2835.7,560.0 L2830.5,562.6 L2825.1,565.2 L2819.6,567.6 L2814.0,569.9 L2808.1,572.1 L2802.2,574.2 L2796.0,576.2 L2789.7,578.0 L2783.2,579.8 L2776.5,581.4 L2769.7,582.9 L2762.6,584.3 L2755.3,585.6 L2747.8,586.8 L2740.0,587.9 L2731.9,588.9 L2723.5,589.7 L2714.7,590.5 L2705.5,591.1 L2695.7,591.6 L2685.2,592.0 L2673.7,592.3 L2660.4,592.4 L2640.0,592.5 L2619.6,592.4 L2606.3,592.3 L2594.8,592.0 L2584.3,591.6 L2574.5,591.1 L2565.3,590.5 L2556.5,589.7 L2548.1,588.9 L2540.0,587.9 L2532.2,586.8 L2524.7,585.6 L2517.4,584.3 L2510.3,582.9 L2503.5,581.4 L2496.8,579.8 L2490.3,578.0 L2484.0,576.2 L2477.8,574.2 L2471.9,572.1 L2466.0,569.9 L2460.4,567.6 L2454.9,565.2 L2449.5,562.6 L2444.3,560.0 L2439.3,557.2 L2434.4,554.4 L2429.6,551.4 L2425.0,548.3 L2420.5,545.1 L2416.2,541.8 L2412.0,538.4 L2407.9,534.8 L2404.0,531.2 L2400.3,527.4 L2396.6,523.5 L2393.1,519.5 L2389.8,515.4 L2386.6,511.2 L2383.5,506.9 L2380.6,502.4 L2377.8,497.8 L2375.2,493.1 L2372.7,488.2 L2370.3,483.2 L2368.1,478.1 L2366.0,472.8 L2364.1,467.4 L2362.3,461.8 L2360.7,456.0 L2359.2,450.1 L2357.8,443.9 L2356.6,437.5 L2355.5,430.9 L2354.6,424.0 L2353.8,416.7 L2353.1,408.9 L2352.6,400.7 L2352.3,391.5 L2352.1,381.0 L2352.0,364.9 L2352.1,354.0 L2352.3,345.4 L2352.7,337.6 L2353.3,330.2 L2354.1,323.2 L2355.0,316.4 L2356.0,309.8 L2357.3,303.4 L2358.6,297.2 L2360.2,291.1 L2361.9,285.2 L2363.8,279.4 L2365.8,273.7 L2368.0,268.1 L2370.4,262.7 L2372.9,257.4 L2375.6,252.1 L2378.4,247.0 L2381.4,242.0 L2384.5,237.2 L2387.8,232.4 L2391.3,227.7 L2394.9,223.2 L2398.6,218.7 L2402.5,214.4 L2406.6,210.2 L2410.8,206.1 L2415.1,202.1 L2419.6,198.2 L2424.2,194.4 L2429.0,190.7 L2433.9,187.2 L2439.0,183.7 L2444.2,180.4 L2449.6,177.2 L2455.0,174.1 L2460.7,171.2 L2466.4,168.3 L2472.3,165.6 L2478.4,163.0 L2484.5,160.5 L2490.9,158.2 L2497.3,155.9 L2503.9,153.8 L2510.7,151.8 L2517.5,150.0 L2524.6,148.2 L2531.8,146.6 L2539.1,145.1 L2546.6,143.8 L2554.3,142.6 L2562.2,141.5 L2570.3,140.5 L2578.6,139.6 L2587.2,138.9 L2596.1,138.3 L2605.5,137.9 L2615.4,137.6 L2626.2,137.4 L2640.0,137.3 L2653.8,137.4 L2664.6,137.6 L2674.5,137.9 L2683.9,138.3 L2692.8,138.9 L2701.4,139.6 L2709.7,140.5 L2717.8,141.5 L2725.7,142.6 L2733.4,143.8 L2740.9,145.1 L2748.2,146.6 L2755.4,148.2 L2762.5,150.0 L2769.3,151.8 L2776.1,153.8 L2782.7,155.9 L2789.1,158.2 L2795.5,160.5 L2801.6,163.0 L2807.7,165.6 L2813.6,168.3 L2819.3,171.2 L2825.0,174.1 L2830.4,177.2 L2835.8,180.4 L2841.0,183.7 L2846.1,187.2 L2851.0,190.7 L2855.8,194.4 L2860.4,198.2 L2864.9,202.1 L2869.2,206.1 L2873.4,210.2 L2877.5,214.4 L2881.4,218.7 L2885.1,223.2 L2888.7,227.7 L2892.2,232.4 L2895.5,237.2 L2898.6,242.0 L2901.6,247.0 L2904.4,252.1 L2907.1,257.4 L2909.6,262.7 L2912.0,268.1 L2914.2,273.7 L2916.2,279.4 L2918.1,285.2 L2919.8,291.1 L2921.4,297.2 L2922.7,303.4 L2924.0,309.8 L2925.0,316.4 L2925.9,323.2 L2926.7,330.2 L2927.3,337.6 L2927.7,345.4 L2927.9,354.0Z" fill="none" stroke="#6ccbdf" stroke-width="8"/><path d="M2922.0,364.9 L2921.9,380.6 L2921.7,390.8 L2921.4,399.7 L2920.9,407.8 L2920.2,415.3 L2919.5,422.4 L2918.6,429.1 L2917.5,435.6 L2916.3,441.8 L2915.0,447.8 L2913.5,453.6 L2911.9,459.2 L2910.1,464.7 L2908.3,470.0 L2906.2,475.1 L2904.1,480.1 L2901.7,485.0 L2899.3,489.7 L2896.7,494.3 L2894.0,498.8 L2891.1,503.1 L2888.1,507.3 L2885.0,511.5 L2881.7,515.5 L2878.3,519.4 L2874.8,523.1 L2871.1,526.8 L2867.2,530.4 L2863.3,533.8 L2859.2,537.1 L2854.9,540.4 L2850.5,543.5 L2846.0,546.5 L2841.4,549.4 L2836.6,552.2 L2831.6,554.8 L2826.5,557.4 L2821.3,559.9 L2815.9,562.2 L2810.3,564.5 L2804.6,566.6 L2798.8,568.7 L2792.8,570.6 L2786.6,572.4 L2780.2,574.1 L2773.7,575.7 L2767.0,577.2 L2760.0,578.6 L2752.9,579.8 L2745.5,581.0 L2737.9,582.0 L2730.0,583.0 L2721.8,583.8 L2713.2,584.5 L2704.1,585.1 L2694.6,585.6 L2684.3,586.0 L2673.0,586.3 L2659.9,586.4 L2640.0,586.5 L2620.1,586.4 L2607.0,586.3 L2595.7,586.0 L2585.4,585.6 L2575.9,585.1 L2566.8,584.5 L2558.2,583.8 L2550.0,583.0 L2542.1,582.0 L2534.5,581.0 L2527.1,579.8 L2520.0,578.6 L2513.0,577.2 L2506.3,575.7 L2499.8,574.1 L2493.4,572.4 L2487.2,570.6 L2481.2,568.7 L2475.4,566.6 L2469.7,564.5 L2464.1,562.2 L2458.7,559.9 L2453.5,557.4 L2448.4,554.8 L2443.4,552.2 L2438.6,549.4 L2434.0,546.5 L2429.5,543.5 L2425.1,540.4 L2420.8,537.1 L2416.7,533.8 L2412.8,530.4 L2408.9,526.8 L2405.2,523.1 L2401.7,519.4 L2398.3,515.5 L2395.0,511.5 L2391.9,507.3 L2388.9,503.1 L2386.0,498.8 L2383.3,494.3 L2380.7,489.7 L2378.3,485.0 L2375.9,480.1 L2373.8,475.1 L2371.7,470.0 L2369.9,464.7 L2368.1,459.2 L2366.5,453.6 L2365.0,447.8 L2363.7,441.8 L2362.5,435.6 L2361.4,429.1 L2360.5,422.4 L2359.8,415.3 L2359.1,407.8 L2358.6,399.7 L2358.3,390.8 L2358.1,380.6 L2358.0,364.9 L2358.1,354.3 L2358.3,345.9 L2358.7,338.3 L2359.3,331.2 L2360.0,324.3 L2360.9,317.7 L2361.9,311.3 L2363.1,305.0 L2364.5,299.0 L2366.0,293.1 L2367.7,287.3 L2369.5,281.6 L2371.5,276.1 L2373.7,270.7 L2376.0,265.4 L2378.5,260.2 L2381.1,255.1 L2383.9,250.1 L2386.8,245.3 L2389.9,240.5 L2393.1,235.9 L2396.5,231.3 L2400.0,226.9 L2403.7,222.6 L2407.5,218.4 L2411.4,214.3 L2415.5,210.2 L2419.8,206.4 L2424.2,202.6 L2428.7,198.9 L2433.4,195.3 L2438.2,191.9 L2443.2,188.5 L2448.3,185.3 L2453.5,182.2 L2458.9,179.2 L2464.4,176.3 L2470.0,173.5 L2475.8,170.9 L2481.7,168.3 L2487.8,165.9 L2494.0,163.6 L2500.3,161.4 L2506.7,159.4 L2513.3,157.4 L2520.1,155.6 L2527.0,153.9 L2534.0,152.4 L2541.2,150.9 L2548.6,149.6 L2556.1,148.4 L2563.8,147.3 L2571.7,146.4 L2579.9,145.6 L2588.3,144.9 L2597.1,144.3 L2606.2,143.9 L2615.9,143.6 L2626.5,143.4 L2640.0,143.3 L2653.5,143.4 L2664.1,143.6 L2673.8,143.9 L2682.9,144.3 L2691.7,144.9 L2700.1,145.6 L2708.3,146.4 L2716.2,147.3 L2723.9,148.4 L2731.4,149.6 L2738.8,150.9 L2746.0,152.4 L2753.0,153.9 L2759.9,155.6 L2766.7,157.4 L2773.3,159.4 L2779.7,161.4 L2786.0,163.6 L2792.2,165.9 L2798.3,168.3 L2804.2,170.9 L2810.0,173.5 L2815.6,176.3 L2821.1,179.2 L2826.5,182.2 L2831.7,185.3 L2836.8,188.5 L2841.8,191.9 L2846.6,195.3 L2851.3,198.9 L2855.8,202.6 L2860.2,206.4 L2864.5,210.2 L2868.6,214.3 L2872.5,218.4 L2876.3,222.6 L2880.0,226.9 L2883.5,231.3 L2886.9,235.9 L2890.1,240.5 L2893.2,245.3 L2896.1,250.1 L2898.9,255.1 L2901.5,260.2 L2904.0,265.4 L2906.3,270.7 L2908.5,276.1 L2910.5,281.6 L2912.3,287.3 L2914.0,293.1 L2915.5,299.0 L2916.9,305.0 L2918.1,311.3 L2919.1,317.7 L2920.0,324.3 L2920.7,331.2 L2921.3,338.3 L2921.7,345.9 L2921.9,354.3Z" fill="none" stroke="#ffffff" stroke-width="4"/><path d="M2918.0,364.9 L2917.9,380.3 L2917.7,390.4 L2917.4,399.1 L2916.9,407.0 L2916.3,414.4 L2915.5,421.4 L2914.6,428.0 L2913.6,434.3 L2912.4,440.4 L2911.1,446.3 L2909.6,452.0 L2908.0,457.5 L2906.3,462.9 L2904.4,468.1 L2902.4,473.1 L2900.3,478.0 L2898.0,482.8 L2895.6,487.4 L2893.1,491.9 L2890.4,496.3 L2887.6,500.6 L2884.6,504.8 L2881.5,508.8 L2878.3,512.7 L2874.9,516.6 L2871.4,520.3 L2867.8,523.9 L2864.0,527.4 L2860.1,530.7 L2856.1,534.0 L2851.9,537.2 L2847.6,540.2 L2843.1,543.2 L2838.5,546.0 L2833.8,548.8 L2828.9,551.4 L2823.9,553.9 L2818.7,556.4 L2813.4,558.7 L2807.9,560.9 L2802.3,563.0 L2796.5,565.0 L2790.6,566.9 L2784.5,568.7 L2778.2,570.3 L2771.8,571.9 L2765.2,573.3 L2758.3,574.7 L2751.3,575.9 L2744.0,577.1 L2736.5,578.1 L2728.7,579.0 L2720.6,579.8 L2712.1,580.5 L2703.2,581.1 L2693.8,581.6 L2683.7,582.0 L2672.5,582.3 L2659.7,582.4 L2640.0,582.5 L2620.3,582.4 L2607.5,582.3 L2596.3,582.0 L2586.2,581.6 L2576.8,581.1 L2567.9,580.5 L2559.4,579.8 L2551.3,579.0 L2543.5,578.1 L2536.0,577.1 L2528.7,575.9 L2521.7,574.7 L2514.8,573.3 L2508.2,571.9 L2501.8,570.3 L2495.5,568.7 L2489.4,566.9 L2483.5,565.0 L2477.7,563.0 L2472.1,560.9 L2466.6,558.7 L2461.3,556.4 L2456.1,553.9 L2451.1,551.4 L2446.2,548.8 L2441.5,546.0 L2436.9,543.2 L2432.4,540.2 L2428.1,537.2 L2423.9,534.0 L2419.9,530.7 L2416.0,527.4 L2412.2,523.9 L2408.6,520.3 L2405.1,516.6 L2401.7,512.7 L2398.5,508.8 L2395.4,504.8 L2392.4,500.6 L2389.6,496.3 L2386.9,491.9 L2384.4,487.4 L2382.0,482.8 L2379.7,478.0 L2377.6,473.1 L2375.6,468.1 L2373.7,462.9 L2372.0,457.5 L2370.4,452.0 L2368.9,446.3 L2367.6,440.4 L2366.4,434.3 L2365.4,428.0 L2364.5,421.4 L2363.7,414.4 L2363.1,407.0 L2362.6,399.1 L2362.3,390.4 L2362.1,380.3 L2362.0,364.9 L2362.1,354.4 L2362.3,346.3 L2362.7,338.8 L2363.3,331.8 L2364.0,325.0 L2364.9,318.5 L2365.9,312.2 L2367.1,306.1 L2368.4,300.2 L2369.9,294.4 L2371.6,288.7 L2373.4,283.1 L2375.4,277.7 L2377.5,272.4 L2379.7,267.2 L2382.2,262.1 L2384.8,257.1 L2387.5,252.2 L2390.4,247.4 L2393.4,242.8 L2396.6,238.2 L2399.9,233.8 L2403.4,229.4 L2407.0,225.2 L2410.8,221.0 L2414.7,217.0 L2418.7,213.0 L2422.9,209.2 L2427.3,205.5 L2431.7,201.9 L2436.3,198.4 L2441.1,195.0 L2446.0,191.7 L2451.0,188.5 L2456.2,185.5 L2461.5,182.5 L2466.9,179.7 L2472.5,177.0 L2478.1,174.4 L2484.0,171.9 L2489.9,169.5 L2496.0,167.3 L2502.3,165.1 L2508.6,163.1 L2515.1,161.2 L2521.8,159.4 L2528.6,157.8 L2535.5,156.2 L2542.6,154.8 L2549.9,153.5 L2557.3,152.3 L2564.9,151.3 L2572.7,150.3 L2580.8,149.5 L2589.1,148.9 L2597.7,148.3 L2606.7,147.9 L2616.2,147.5 L2626.6,147.4 L2640.0,147.3 L2653.4,147.4 L2663.8,147.5 L2673.3,147.9 L2682.3,148.3 L2690.9,148.9 L2699.2,149.5 L2707.3,150.3 L2715.1,151.3 L2722.7,152.3 L2730.1,153.5 L2737.4,154.8 L2744.5,156.2 L2751.4,157.8 L2758.2,159.4 L2764.9,161.2 L2771.4,163.1 L2777.7,165.1 L2784.0,167.3 L2790.1,169.5 L2796.0,171.9 L2801.9,174.4 L2807.5,177.0 L2813.1,179.7 L2818.5,182.5 L2823.8,185.5 L2829.0,188.5 L2834.0,191.7 L2838.9,195.0 L2843.7,198.4 L2848.3,201.9 L2852.7,205.5 L2857.1,209.2 L2861.3,213.0 L2865.3,217.0 L2869.2,221.0 L2873.0,225.2 L2876.6,229.4 L2880.1,233.8 L2883.4,238.2 L2886.6,242.8 L2889.6,247.4 L2892.5,252.2 L2895.2,257.1 L2897.8,262.1 L2900.3,267.2 L2902.5,272.4 L2904.6,277.7 L2906.6,283.1 L2908.4,288.7 L2910.1,294.4 L2911.6,300.2 L2912.9,306.1 L2914.1,312.2 L2915.1,318.5 L2916.0,325.0 L2916.7,331.8 L2917.3,338.8 L2917.7,346.3 L2917.9,354.4Z" fill="none" stroke="#8a8f92" stroke-width="3.5" stroke-dasharray="40 12"/><path d="M2914.0,364.9 L2913.9,380.0 L2913.7,389.9 L2913.4,398.5 L2912.9,406.2 L2912.3,413.5 L2911.5,420.3 L2910.7,426.8 L2909.6,433.1 L2908.5,439.0 L2907.2,444.8 L2905.7,450.4 L2904.2,455.8 L2902.5,461.1 L2900.6,466.2 L2898.7,471.1 L2896.6,475.9 L2894.3,480.6 L2891.9,485.2 L2889.4,489.6 L2886.8,493.9 L2884.0,498.1 L2881.1,502.2 L2878.0,506.2 L2874.9,510.0 L2871.5,513.8 L2868.1,517.4 L2864.5,521.0 L2860.8,524.4 L2856.9,527.7 L2853.0,530.9 L2848.8,534.0 L2844.6,537.0 L2840.2,539.9 L2835.6,542.7 L2831.0,545.4 L2826.2,548.0 L2821.2,550.5 L2816.1,552.8 L2810.9,555.1 L2805.5,557.3 L2800.0,559.3 L2794.3,561.3 L2788.4,563.2 L2782.4,564.9 L2776.3,566.5 L2769.9,568.1 L2763.4,569.5 L2756.6,570.8 L2749.7,572.1 L2742.5,573.2 L2735.1,574.2 L2727.4,575.1 L2719.4,575.9 L2711.1,576.6 L2702.3,577.2 L2693.0,577.6 L2683.0,578.0 L2672.1,578.3 L2659.4,578.4 L2640.0,578.5 L2620.6,578.4 L2607.9,578.3 L2597.0,578.0 L2587.0,577.6 L2577.7,577.2 L2568.9,576.6 L2560.6,575.9 L2552.6,575.1 L2544.9,574.2 L2537.5,573.2 L2530.3,572.1 L2523.4,570.8 L2516.6,569.5 L2510.1,568.1 L2503.7,566.5 L2497.6,564.9 L2491.6,563.2 L2485.7,561.3 L2480.0,559.3 L2474.5,557.3 L2469.1,555.1 L2463.9,552.8 L2458.8,550.5 L2453.8,548.0 L2449.0,545.4 L2444.4,542.7 L2439.8,539.9 L2435.4,537.0 L2431.2,534.0 L2427.0,530.9 L2423.1,527.7 L2419.2,524.4 L2415.5,521.0 L2411.9,517.4 L2408.5,513.8 L2405.1,510.0 L2402.0,506.2 L2398.9,502.2 L2396.0,498.1 L2393.2,493.9 L2390.6,489.6 L2388.1,485.2 L2385.7,480.6 L2383.4,475.9 L2381.3,471.1 L2379.4,466.2 L2377.5,461.1 L2375.8,455.8 L2374.3,450.4 L2372.8,444.8 L2371.5,439.0 L2370.4,433.1 L2369.3,426.8 L2368.5,420.3 L2367.7,413.5 L2367.1,406.2 L2366.6,398.5 L2366.3,389.9 L2366.1,380.0 L2366.0,364.9 L2366.1,354.6 L2366.3,346.6 L2366.7,339.3 L2367.3,332.4 L2368.0,325.8 L2368.8,319.4 L2369.8,313.2 L2371.0,307.2 L2372.3,301.4 L2373.8,295.6 L2375.4,290.1 L2377.2,284.6 L2379.2,279.3 L2381.3,274.1 L2383.5,269.0 L2385.9,264.0 L2388.4,259.1 L2391.1,254.3 L2394.0,249.6 L2397.0,245.0 L2400.1,240.5 L2403.4,236.2 L2406.8,231.9 L2410.4,227.7 L2414.1,223.7 L2417.9,219.7 L2421.9,215.8 L2426.1,212.1 L2430.3,208.4 L2434.7,204.9 L2439.3,201.4 L2444.0,198.1 L2448.8,194.9 L2453.7,191.8 L2458.8,188.8 L2464.0,185.9 L2469.4,183.1 L2474.9,180.4 L2480.5,177.9 L2486.2,175.4 L2492.1,173.1 L2498.1,170.9 L2504.3,168.8 L2510.5,166.8 L2516.9,164.9 L2523.5,163.2 L2530.2,161.6 L2537.0,160.0 L2544.0,158.7 L2551.2,157.4 L2558.5,156.2 L2566.0,155.2 L2573.7,154.3 L2581.6,153.5 L2589.8,152.8 L2598.3,152.3 L2607.1,151.8 L2616.6,151.5 L2626.8,151.4 L2640.0,151.3 L2653.2,151.4 L2663.4,151.5 L2672.9,151.8 L2681.7,152.3 L2690.2,152.8 L2698.4,153.5 L2706.3,154.3 L2714.0,155.2 L2721.5,156.2 L2728.8,157.4 L2736.0,158.7 L2743.0,160.0 L2749.8,161.6 L2756.5,163.2 L2763.1,164.9 L2769.5,166.8 L2775.7,168.8 L2781.9,170.9 L2787.9,173.1 L2793.8,175.4 L2799.5,177.9 L2805.1,180.4 L2810.6,183.1 L2816.0,185.9 L2821.2,188.8 L2826.3,191.8 L2831.2,194.9 L2836.0,198.1 L2840.7,201.4 L2845.3,204.9 L2849.7,208.4 L2853.9,212.1 L2858.1,215.8 L2862.1,219.7 L2865.9,223.7 L2869.6,227.7 L2873.2,231.9 L2876.6,236.2 L2879.9,240.5 L2883.0,245.0 L2886.0,249.6 L2888.9,254.3 L2891.6,259.1 L2894.1,264.0 L2896.5,269.0 L2898.7,274.1 L2900.8,279.3 L2902.8,284.6 L2904.6,290.1 L2906.2,295.6 L2907.7,301.4 L2909.0,307.2 L2910.2,313.2 L2911.2,319.4 L2912.0,325.8 L2912.7,332.4 L2913.3,339.3 L2913.7,346.6 L2913.9,354.6Z" fill="none" stroke="#9ad8e8" stroke-width="4"/><path d="M2909.0,364.9 L2908.9,379.6 L2908.7,389.3 L2908.4,397.7 L2907.9,405.3 L2907.3,412.3 L2906.6,419.0 L2905.7,425.4 L2904.7,431.5 L2903.6,437.3 L2902.3,443.0 L2900.9,448.4 L2899.4,453.7 L2897.7,458.8 L2895.9,463.8 L2893.9,468.6 L2891.9,473.3 L2889.7,477.9 L2887.3,482.4 L2884.9,486.7 L2882.3,490.9 L2879.6,495.0 L2876.7,499.0 L2873.7,502.9 L2870.6,506.6 L2867.3,510.3 L2863.9,513.8 L2860.4,517.3 L2856.8,520.6 L2853.0,523.9 L2849.1,527.0 L2845.0,530.1 L2840.8,533.0 L2836.5,535.8 L2832.1,538.6 L2827.5,541.2 L2822.8,543.7 L2817.9,546.1 L2812.9,548.4 L2807.8,550.7 L2802.5,552.8 L2797.1,554.8 L2791.5,556.7 L2785.7,558.5 L2779.8,560.2 L2773.8,561.8 L2767.5,563.3 L2761.1,564.7 L2754.5,566.0 L2747.7,567.2 L2740.7,568.3 L2733.4,569.3 L2725.8,570.2 L2718.0,571.0 L2709.8,571.6 L2701.2,572.2 L2692.1,572.7 L2682.3,573.0 L2671.5,573.3 L2659.0,573.4 L2640.0,573.5 L2621.0,573.4 L2608.5,573.3 L2597.7,573.0 L2587.9,572.7 L2578.8,572.2 L2570.2,571.6 L2562.0,571.0 L2554.2,570.2 L2546.6,569.3 L2539.3,568.3 L2532.3,567.2 L2525.5,566.0 L2518.9,564.7 L2512.5,563.3 L2506.2,561.8 L2500.2,560.2 L2494.3,558.5 L2488.5,556.7 L2482.9,554.8 L2477.5,552.8 L2472.2,550.7 L2467.1,548.4 L2462.1,546.1 L2457.2,543.7 L2452.5,541.2 L2447.9,538.6 L2443.5,535.8 L2439.2,533.0 L2435.0,530.1 L2430.9,527.0 L2427.0,523.9 L2423.2,520.6 L2419.6,517.3 L2416.1,513.8 L2412.7,510.3 L2409.4,506.6 L2406.3,502.9 L2403.3,499.0 L2400.4,495.0 L2397.7,490.9 L2395.1,486.7 L2392.7,482.4 L2390.3,477.9 L2388.1,473.3 L2386.1,468.6 L2384.1,463.8 L2382.3,458.8 L2380.6,453.7 L2379.1,448.4 L2377.7,443.0 L2376.4,437.3 L2375.3,431.5 L2374.3,425.4 L2373.4,419.0 L2372.7,412.3 L2372.1,405.3 L2371.6,397.7 L2371.3,389.3 L2371.1,379.6 L2371.0,364.9 L2371.1,354.9 L2371.3,347.0 L2371.7,339.9 L2372.2,333.1 L2372.9,326.7 L2373.8,320.4 L2374.8,314.4 L2375.9,308.6 L2377.2,302.8 L2378.7,297.3 L2380.3,291.8 L2382.0,286.5 L2383.9,281.3 L2386.0,276.2 L2388.2,271.2 L2390.5,266.3 L2393.0,261.6 L2395.7,256.9 L2398.5,252.3 L2401.4,247.8 L2404.5,243.5 L2407.7,239.2 L2411.0,235.0 L2414.5,230.9 L2418.2,227.0 L2422.0,223.1 L2425.9,219.3 L2430.0,215.7 L2434.1,212.1 L2438.5,208.6 L2442.9,205.3 L2447.5,202.0 L2452.3,198.9 L2457.1,195.8 L2462.1,192.9 L2467.2,190.1 L2472.5,187.4 L2477.9,184.7 L2483.4,182.3 L2489.0,179.9 L2494.8,177.6 L2500.7,175.4 L2506.7,173.4 L2512.9,171.4 L2519.2,169.6 L2525.6,167.9 L2532.2,166.3 L2538.9,164.8 L2545.8,163.5 L2552.8,162.2 L2560.0,161.1 L2567.3,160.1 L2574.9,159.2 L2582.7,158.4 L2590.7,157.8 L2599.0,157.3 L2607.7,156.8 L2617.0,156.5 L2627.1,156.4 L2640.0,156.3 L2652.9,156.4 L2663.0,156.5 L2672.3,156.8 L2681.0,157.3 L2689.3,157.8 L2697.3,158.4 L2705.1,159.2 L2712.7,160.1 L2720.0,161.1 L2727.2,162.2 L2734.2,163.5 L2741.1,164.8 L2747.8,166.3 L2754.4,167.9 L2760.8,169.6 L2767.1,171.4 L2773.3,173.4 L2779.3,175.4 L2785.2,177.6 L2791.0,179.9 L2796.6,182.3 L2802.1,184.7 L2807.5,187.4 L2812.8,190.1 L2817.9,192.9 L2822.9,195.8 L2827.7,198.9 L2832.5,202.0 L2837.1,205.3 L2841.5,208.6 L2845.9,212.1 L2850.0,215.7 L2854.1,219.3 L2858.0,223.1 L2861.8,227.0 L2865.5,230.9 L2869.0,235.0 L2872.3,239.2 L2875.5,243.5 L2878.6,247.8 L2881.5,252.3 L2884.3,256.9 L2887.0,261.6 L2889.5,266.3 L2891.8,271.2 L2894.0,276.2 L2896.1,281.3 L2898.0,286.5 L2899.7,291.8 L2901.3,297.3 L2902.8,302.8 L2904.1,308.6 L2905.2,314.4 L2906.2,320.4 L2907.1,326.7 L2907.8,333.1 L2908.3,339.9 L2908.7,347.0 L2908.9,354.9Z" fill="none" stroke="#52a9a6" stroke-width="4" stroke-dasharray="50 20"/><path d="M2902.0,364.9 L2901.9,379.2 L2901.7,388.5 L2901.4,396.6 L2901.0,403.9 L2900.4,410.8 L2899.7,417.2 L2898.8,423.3 L2897.8,429.2 L2896.7,434.9 L2895.5,440.3 L2894.1,445.6 L2892.6,450.7 L2891.0,455.7 L2889.2,460.5 L2887.3,465.2 L2885.3,469.7 L2883.2,474.1 L2880.9,478.4 L2878.5,482.6 L2876.0,486.7 L2873.3,490.6 L2870.5,494.5 L2867.6,498.2 L2864.6,501.9 L2861.4,505.4 L2858.1,508.9 L2854.7,512.2 L2851.1,515.4 L2847.4,518.6 L2843.6,521.6 L2839.7,524.5 L2835.6,527.4 L2831.4,530.1 L2827.1,532.7 L2822.6,535.3 L2818.0,537.7 L2813.3,540.0 L2808.4,542.3 L2803.4,544.4 L2798.3,546.5 L2793.0,548.4 L2787.5,550.3 L2781.9,552.0 L2776.2,553.7 L2770.3,555.2 L2764.2,556.7 L2758.0,558.0 L2751.5,559.3 L2744.9,560.4 L2738.0,561.5 L2730.9,562.4 L2723.6,563.3 L2716.0,564.0 L2708.0,564.7 L2699.6,565.2 L2690.7,565.7 L2681.2,566.0 L2670.7,566.3 L2658.5,566.4 L2640.0,566.5 L2621.5,566.4 L2609.3,566.3 L2598.8,566.0 L2589.3,565.7 L2580.4,565.2 L2572.0,564.7 L2564.0,564.0 L2556.4,563.3 L2549.1,562.4 L2542.0,561.5 L2535.1,560.4 L2528.5,559.3 L2522.0,558.0 L2515.8,556.7 L2509.7,555.2 L2503.8,553.7 L2498.1,552.0 L2492.5,550.3 L2487.0,548.4 L2481.7,546.5 L2476.6,544.4 L2471.6,542.3 L2466.7,540.0 L2462.0,537.7 L2457.4,535.3 L2452.9,532.7 L2448.6,530.1 L2444.4,527.4 L2440.3,524.5 L2436.4,521.6 L2432.6,518.6 L2428.9,515.4 L2425.3,512.2 L2421.9,508.9 L2418.6,505.4 L2415.4,501.9 L2412.4,498.2 L2409.5,494.5 L2406.7,490.6 L2404.0,486.7 L2401.5,482.6 L2399.1,478.4 L2396.8,474.1 L2394.7,469.7 L2392.7,465.2 L2390.8,460.5 L2389.0,455.7 L2387.4,450.7 L2385.9,445.6 L2384.5,440.3 L2383.3,434.9 L2382.2,429.2 L2381.2,423.3 L2380.3,417.2 L2379.6,410.8 L2379.0,403.9 L2378.6,396.6 L2378.3,388.5 L2378.1,379.2 L2378.0,364.9 L2378.1,355.2 L2378.3,347.6 L2378.7,340.7 L2379.2,334.2 L2379.9,328.0 L2380.7,321.9 L2381.7,316.1 L2382.8,310.4 L2384.0,304.9 L2385.5,299.5 L2387.0,294.3 L2388.7,289.1 L2390.6,284.1 L2392.6,279.2 L2394.7,274.4 L2397.0,269.6 L2399.4,265.0 L2402.0,260.5 L2404.7,256.1 L2407.6,251.8 L2410.6,247.5 L2413.7,243.4 L2417.0,239.4 L2420.4,235.4 L2424.0,231.6 L2427.6,227.8 L2431.5,224.2 L2435.4,220.7 L2439.5,217.2 L2443.7,213.9 L2448.1,210.6 L2452.5,207.5 L2457.2,204.4 L2461.9,201.5 L2466.7,198.7 L2471.7,195.9 L2476.9,193.3 L2482.1,190.8 L2487.5,188.4 L2493.0,186.1 L2498.6,183.9 L2504.3,181.8 L2510.2,179.8 L2516.2,177.9 L2522.3,176.2 L2528.6,174.5 L2535.0,173.0 L2541.5,171.6 L2548.2,170.2 L2555.1,169.0 L2562.1,168.0 L2569.2,167.0 L2576.6,166.1 L2584.2,165.4 L2592.0,164.7 L2600.1,164.2 L2608.6,163.8 L2617.6,163.5 L2627.4,163.4 L2640.0,163.3 L2652.6,163.4 L2662.4,163.5 L2671.4,163.8 L2679.9,164.2 L2688.0,164.7 L2695.8,165.4 L2703.4,166.1 L2710.8,167.0 L2717.9,168.0 L2724.9,169.0 L2731.8,170.2 L2738.5,171.6 L2745.0,173.0 L2751.4,174.5 L2757.7,176.2 L2763.8,177.9 L2769.8,179.8 L2775.7,181.8 L2781.4,183.9 L2787.0,186.1 L2792.5,188.4 L2797.9,190.8 L2803.1,193.3 L2808.3,195.9 L2813.3,198.7 L2818.1,201.5 L2822.8,204.4 L2827.5,207.5 L2831.9,210.6 L2836.3,213.9 L2840.5,217.2 L2844.6,220.7 L2848.5,224.2 L2852.4,227.8 L2856.0,231.6 L2859.6,235.4 L2863.0,239.4 L2866.3,243.4 L2869.4,247.5 L2872.4,251.8 L2875.3,256.1 L2878.0,260.5 L2880.6,265.0 L2883.0,269.6 L2885.3,274.4 L2887.4,279.2 L2889.4,284.1 L2891.3,289.1 L2893.0,294.3 L2894.5,299.5 L2896.0,304.9 L2897.2,310.4 L2898.3,316.1 L2899.3,321.9 L2900.1,328.0 L2900.8,334.2 L2901.3,340.7 L2901.7,347.6 L2901.9,355.2Z" fill="none" stroke="#7fcce2" stroke-width="4" stroke-dasharray="8 16 4 4 20 4 12 20" opacity="0.55"/><path d="M2898.0,364.9 L2897.9,378.9 L2897.7,388.0 L2897.4,395.9 L2897.0,403.1 L2896.4,409.8 L2895.7,416.2 L2894.9,422.2 L2893.9,428.0 L2892.8,433.5 L2891.6,438.8 L2890.2,444.0 L2888.8,449.0 L2887.2,453.9 L2885.4,458.6 L2883.6,463.2 L2881.6,467.6 L2879.5,472.0 L2877.2,476.2 L2874.9,480.3 L2872.4,484.3 L2869.8,488.1 L2867.0,491.9 L2864.1,495.6 L2861.1,499.2 L2858.0,502.6 L2854.8,506.0 L2851.4,509.3 L2847.9,512.4 L2844.3,515.5 L2840.5,518.5 L2836.6,521.4 L2832.6,524.1 L2828.5,526.8 L2824.2,529.4 L2819.8,531.9 L2815.3,534.3 L2810.6,536.6 L2805.8,538.8 L2800.9,540.9 L2795.8,542.9 L2790.6,544.8 L2785.3,546.6 L2779.8,548.3 L2774.1,549.9 L2768.3,551.4 L2762.3,552.9 L2756.2,554.2 L2749.8,555.4 L2743.3,556.5 L2736.5,557.6 L2729.6,558.5 L2722.3,559.4 L2714.8,560.1 L2706.9,560.7 L2698.7,561.3 L2689.9,561.7 L2680.5,562.1 L2670.2,562.3 L2658.2,562.5 L2640.0,562.5 L2621.8,562.5 L2609.8,562.3 L2599.5,562.1 L2590.1,561.7 L2581.3,561.3 L2573.1,560.7 L2565.2,560.1 L2557.7,559.4 L2550.4,558.5 L2543.5,557.6 L2536.7,556.5 L2530.2,555.4 L2523.8,554.2 L2517.7,552.9 L2511.7,551.4 L2505.9,549.9 L2500.2,548.3 L2494.7,546.6 L2489.4,544.8 L2484.2,542.9 L2479.1,540.9 L2474.2,538.8 L2469.4,536.6 L2464.7,534.3 L2460.2,531.9 L2455.8,529.4 L2451.5,526.8 L2447.4,524.1 L2443.4,521.4 L2439.5,518.5 L2435.7,515.5 L2432.1,512.4 L2428.6,509.3 L2425.2,506.0 L2422.0,502.6 L2418.9,499.2 L2415.9,495.6 L2413.0,491.9 L2410.2,488.1 L2407.6,484.3 L2405.1,480.3 L2402.8,476.2 L2400.5,472.0 L2398.4,467.6 L2396.4,463.2 L2394.6,458.6 L2392.8,453.9 L2391.2,449.0 L2389.8,444.0 L2388.4,438.8 L2387.2,433.5 L2386.1,428.0 L2385.1,422.2 L2384.3,416.2 L2383.6,409.8 L2383.0,403.1 L2382.6,395.9 L2382.3,388.0 L2382.1,378.9 L2382.0,364.9 L2382.1,355.4 L2382.3,348.0 L2382.7,341.2 L2383.2,334.8 L2383.8,328.7 L2384.6,322.8 L2385.6,317.1 L2386.7,311.5 L2388.0,306.1 L2389.3,300.8 L2390.9,295.7 L2392.6,290.6 L2394.4,285.7 L2396.4,280.9 L2398.5,276.2 L2400.7,271.5 L2403.1,267.0 L2405.7,262.6 L2408.3,258.2 L2411.1,254.0 L2414.1,249.9 L2417.2,245.8 L2420.4,241.9 L2423.8,238.0 L2427.3,234.2 L2430.9,230.6 L2434.7,227.0 L2438.5,223.5 L2442.6,220.1 L2446.7,216.9 L2451.0,213.7 L2455.4,210.6 L2459.9,207.6 L2464.6,204.7 L2469.4,202.0 L2474.3,199.3 L2479.3,196.7 L2484.5,194.2 L2489.8,191.9 L2495.2,189.6 L2500.7,187.5 L2506.4,185.4 L2512.2,183.5 L2518.1,181.6 L2524.1,179.9 L2530.3,178.3 L2536.6,176.8 L2543.0,175.4 L2549.6,174.1 L2556.4,172.9 L2563.2,171.9 L2570.3,170.9 L2577.6,170.1 L2585.0,169.3 L2592.7,168.7 L2600.7,168.2 L2609.1,167.8 L2617.9,167.5 L2627.6,167.4 L2640.0,167.3 L2652.4,167.4 L2662.1,167.5 L2670.9,167.8 L2679.3,168.2 L2687.3,168.7 L2695.0,169.3 L2702.4,170.1 L2709.7,170.9 L2716.8,171.9 L2723.6,172.9 L2730.4,174.1 L2737.0,175.4 L2743.4,176.8 L2749.7,178.3 L2755.9,179.9 L2761.9,181.6 L2767.8,183.5 L2773.6,185.4 L2779.3,187.5 L2784.8,189.6 L2790.2,191.9 L2795.5,194.2 L2800.7,196.7 L2805.7,199.3 L2810.6,202.0 L2815.4,204.7 L2820.1,207.6 L2824.6,210.6 L2829.0,213.7 L2833.3,216.9 L2837.4,220.1 L2841.5,223.5 L2845.3,227.0 L2849.1,230.6 L2852.7,234.2 L2856.2,238.0 L2859.6,241.9 L2862.8,245.8 L2865.9,249.9 L2868.9,254.0 L2871.7,258.2 L2874.3,262.6 L2876.9,267.0 L2879.3,271.5 L2881.5,276.2 L2883.6,280.9 L2885.6,285.7 L2887.4,290.6 L2889.1,295.7 L2890.7,300.8 L2892.0,306.1 L2893.3,311.5 L2894.4,317.1 L2895.4,322.8 L2896.2,328.7 L2896.8,334.8 L2897.3,341.2 L2897.7,348.0 L2897.9,355.4Z" fill="none" stroke="#5fb3ae" stroke-width="4" stroke-dasharray="20 8 4 4 16 16 4 8" opacity="0.51"/><path d="M2894.0,364.9 L2893.9,378.6 L2893.7,387.6 L2893.4,395.3 L2893.0,402.4 L2892.4,408.9 L2891.7,415.1 L2890.9,421.0 L2890.0,426.7 L2888.9,432.1 L2887.7,437.3 L2886.3,442.4 L2884.9,447.3 L2883.3,452.1 L2881.6,456.7 L2879.8,461.2 L2877.8,465.5 L2875.8,469.8 L2873.6,473.9 L2871.2,477.9 L2868.8,481.8 L2866.2,485.6 L2863.5,489.3 L2860.7,492.9 L2857.7,496.4 L2854.6,499.8 L2851.4,503.1 L2848.1,506.3 L2844.7,509.4 L2841.1,512.5 L2837.4,515.4 L2833.6,518.2 L2829.6,520.9 L2825.6,523.5 L2821.4,526.1 L2817.0,528.5 L2812.6,530.8 L2808.0,533.1 L2803.3,535.2 L2798.4,537.3 L2793.4,539.3 L2788.3,541.1 L2783.0,542.9 L2777.6,544.6 L2772.0,546.2 L2766.3,547.7 L2760.4,549.1 L2754.4,550.4 L2748.1,551.6 L2741.7,552.7 L2735.0,553.7 L2728.2,554.6 L2721.0,555.4 L2713.6,556.1 L2705.9,556.8 L2697.8,557.3 L2689.2,557.7 L2679.9,558.1 L2669.7,558.3 L2658.0,558.5 L2640.0,558.5 L2622.0,558.5 L2610.3,558.3 L2600.1,558.1 L2590.8,557.7 L2582.2,557.3 L2574.1,556.8 L2566.4,556.1 L2559.0,555.4 L2551.8,554.6 L2545.0,553.7 L2538.3,552.7 L2531.9,551.6 L2525.6,550.4 L2519.6,549.1 L2513.7,547.7 L2508.0,546.2 L2502.4,544.6 L2497.0,542.9 L2491.7,541.1 L2486.6,539.3 L2481.6,537.3 L2476.7,535.2 L2472.0,533.1 L2467.4,530.8 L2463.0,528.5 L2458.6,526.1 L2454.4,523.5 L2450.4,520.9 L2446.4,518.2 L2442.6,515.4 L2438.9,512.5 L2435.3,509.4 L2431.9,506.3 L2428.6,503.1 L2425.4,499.8 L2422.3,496.4 L2419.3,492.9 L2416.5,489.3 L2413.8,485.6 L2411.2,481.8 L2408.8,477.9 L2406.4,473.9 L2404.2,469.8 L2402.2,465.5 L2400.2,461.2 L2398.4,456.7 L2396.7,452.1 L2395.1,447.3 L2393.7,442.4 L2392.3,437.3 L2391.1,432.1 L2390.0,426.7 L2389.1,421.0 L2388.3,415.1 L2387.6,408.9 L2387.0,402.4 L2386.6,395.3 L2386.3,387.6 L2386.1,378.6 L2386.0,364.9 L2386.1,355.6 L2386.3,348.3 L2386.7,341.7 L2387.2,335.4 L2387.8,329.4 L2388.6,323.6 L2389.5,318.0 L2390.6,312.6 L2391.9,307.3 L2393.2,302.1 L2394.7,297.1 L2396.4,292.1 L2398.2,287.3 L2400.1,282.6 L2402.2,277.9 L2404.4,273.4 L2406.8,269.0 L2409.3,264.6 L2411.9,260.4 L2414.7,256.2 L2417.6,252.2 L2420.6,248.2 L2423.8,244.3 L2427.1,240.6 L2430.6,236.9 L2434.1,233.3 L2437.8,229.8 L2441.7,226.4 L2445.6,223.1 L2449.7,219.9 L2453.9,216.7 L2458.3,213.7 L2462.7,210.8 L2467.3,208.0 L2472.0,205.3 L2476.9,202.6 L2481.8,200.1 L2486.9,197.7 L2492.1,195.4 L2497.4,193.2 L2502.9,191.1 L2508.5,189.1 L2514.2,187.1 L2520.0,185.4 L2525.9,183.7 L2532.0,182.1 L2538.2,180.6 L2544.5,179.2 L2551.0,178.0 L2557.6,176.8 L2564.4,175.8 L2571.4,174.8 L2578.5,174.0 L2585.9,173.3 L2593.5,172.7 L2601.3,172.2 L2609.5,171.8 L2618.3,171.5 L2627.8,171.4 L2640.0,171.3 L2652.2,171.4 L2661.7,171.5 L2670.5,171.8 L2678.7,172.2 L2686.5,172.7 L2694.1,173.3 L2701.5,174.0 L2708.6,174.8 L2715.6,175.8 L2722.4,176.8 L2729.0,178.0 L2735.5,179.2 L2741.8,180.6 L2748.0,182.1 L2754.1,183.7 L2760.0,185.4 L2765.8,187.1 L2771.5,189.1 L2777.1,191.1 L2782.6,193.2 L2787.9,195.4 L2793.1,197.7 L2798.2,200.1 L2803.1,202.6 L2808.0,205.3 L2812.7,208.0 L2817.3,210.8 L2821.7,213.7 L2826.1,216.7 L2830.3,219.9 L2834.4,223.1 L2838.3,226.4 L2842.2,229.8 L2845.9,233.3 L2849.4,236.9 L2852.9,240.6 L2856.2,244.3 L2859.4,248.2 L2862.4,252.2 L2865.3,256.2 L2868.1,260.4 L2870.7,264.6 L2873.2,269.0 L2875.6,273.4 L2877.8,277.9 L2879.9,282.6 L2881.8,287.3 L2883.6,292.1 L2885.3,297.1 L2886.8,302.1 L2888.1,307.3 L2889.4,312.6 L2890.5,318.0 L2891.4,323.6 L2892.2,329.4 L2892.8,335.4 L2893.3,341.7 L2893.7,348.3 L2893.9,355.6Z" fill="none" stroke="#8bcbd8" stroke-width="4" stroke-dasharray="20 16 4 20 4 8 20 4" opacity="0.47"/><path d="M2890.0,364.9 L2889.9,378.3 L2889.8,387.1 L2889.4,394.7 L2889.0,401.6 L2888.4,408.0 L2887.8,414.1 L2886.9,419.9 L2886.0,425.4 L2885.0,430.7 L2883.8,435.8 L2882.5,440.8 L2881.0,445.6 L2879.5,450.3 L2877.8,454.8 L2876.0,459.2 L2874.1,463.5 L2872.0,467.6 L2869.9,471.7 L2867.6,475.6 L2865.2,479.4 L2862.6,483.2 L2860.0,486.8 L2857.2,490.3 L2854.3,493.7 L2851.3,497.1 L2848.1,500.3 L2844.8,503.4 L2841.5,506.5 L2837.9,509.4 L2834.3,512.3 L2830.5,515.0 L2826.7,517.7 L2822.6,520.3 L2818.5,522.7 L2814.3,525.1 L2809.9,527.4 L2805.3,529.6 L2800.7,531.7 L2795.9,533.7 L2791.0,535.7 L2786.0,537.5 L2780.8,539.2 L2775.4,540.9 L2770.0,542.4 L2764.3,543.9 L2758.5,545.3 L2752.6,546.5 L2746.4,547.7 L2740.1,548.8 L2733.5,549.8 L2726.8,550.7 L2719.8,551.5 L2712.5,552.2 L2704.9,552.8 L2696.9,553.3 L2688.4,553.7 L2679.3,554.1 L2669.3,554.3 L2657.7,554.5 L2640.0,554.5 L2622.3,554.5 L2610.7,554.3 L2600.7,554.1 L2591.6,553.7 L2583.1,553.3 L2575.1,552.8 L2567.5,552.2 L2560.2,551.5 L2553.2,550.7 L2546.5,549.8 L2539.9,548.8 L2533.6,547.7 L2527.4,546.5 L2521.5,545.3 L2515.7,543.9 L2510.0,542.4 L2504.6,540.9 L2499.2,539.2 L2494.0,537.5 L2489.0,535.7 L2484.1,533.7 L2479.3,531.7 L2474.7,529.6 L2470.1,527.4 L2465.7,525.1 L2461.5,522.7 L2457.4,520.3 L2453.3,517.7 L2449.5,515.0 L2445.7,512.3 L2442.1,509.4 L2438.5,506.5 L2435.2,503.4 L2431.9,500.3 L2428.7,497.1 L2425.7,493.7 L2422.8,490.3 L2420.0,486.8 L2417.4,483.2 L2414.8,479.4 L2412.4,475.6 L2410.1,471.7 L2408.0,467.6 L2405.9,463.5 L2404.0,459.2 L2402.2,454.8 L2400.5,450.3 L2399.0,445.6 L2397.5,440.8 L2396.2,435.8 L2395.0,430.7 L2394.0,425.4 L2393.1,419.9 L2392.2,414.1 L2391.6,408.0 L2391.0,401.6 L2390.6,394.7 L2390.2,387.1 L2390.1,378.3 L2390.0,364.9 L2390.1,355.8 L2390.3,348.7 L2390.6,342.2 L2391.1,336.0 L2391.8,330.2 L2392.6,324.5 L2393.5,319.0 L2394.6,313.7 L2395.8,308.5 L2397.1,303.4 L2398.6,298.5 L2400.2,293.6 L2402.0,288.9 L2403.9,284.3 L2406.0,279.7 L2408.1,275.3 L2410.5,271.0 L2412.9,266.7 L2415.5,262.6 L2418.2,258.5 L2421.1,254.5 L2424.1,250.6 L2427.2,246.8 L2430.5,243.1 L2433.9,239.5 L2437.4,236.0 L2441.0,232.6 L2444.8,229.2 L2448.7,226.0 L2452.7,222.9 L2456.9,219.8 L2461.1,216.9 L2465.5,214.0 L2470.0,211.2 L2474.7,208.6 L2479.4,206.0 L2484.3,203.5 L2489.3,201.2 L2494.5,198.9 L2499.7,196.7 L2505.1,194.7 L2510.5,192.7 L2516.1,190.8 L2521.9,189.1 L2527.7,187.4 L2533.7,185.9 L2539.8,184.4 L2546.0,183.1 L2552.4,181.8 L2558.9,180.7 L2565.6,179.7 L2572.5,178.8 L2579.5,177.9 L2586.7,177.2 L2594.2,176.7 L2601.9,176.2 L2610.0,175.8 L2618.6,175.5 L2628.0,175.4 L2640.0,175.3 L2652.0,175.4 L2661.4,175.5 L2670.0,175.8 L2678.1,176.2 L2685.8,176.7 L2693.3,177.2 L2700.5,177.9 L2707.5,178.8 L2714.4,179.7 L2721.1,180.7 L2727.6,181.8 L2734.0,183.1 L2740.2,184.4 L2746.3,185.9 L2752.3,187.4 L2758.1,189.1 L2763.9,190.8 L2769.5,192.7 L2774.9,194.7 L2780.3,196.7 L2785.5,198.9 L2790.7,201.2 L2795.7,203.5 L2800.6,206.0 L2805.3,208.6 L2810.0,211.2 L2814.5,214.0 L2818.9,216.9 L2823.1,219.8 L2827.3,222.9 L2831.3,226.0 L2835.2,229.2 L2839.0,232.6 L2842.6,236.0 L2846.1,239.5 L2849.5,243.1 L2852.8,246.8 L2855.9,250.6 L2858.9,254.5 L2861.8,258.5 L2864.5,262.6 L2867.1,266.7 L2869.5,271.0 L2871.9,275.3 L2874.0,279.7 L2876.1,284.3 L2878.0,288.9 L2879.8,293.6 L2881.4,298.5 L2882.9,303.4 L2884.2,308.5 L2885.4,313.7 L2886.5,319.0 L2887.4,324.5 L2888.2,330.2 L2888.9,336.0 L2889.4,342.2 L2889.7,348.7 L2889.9,355.8Z" fill="none" stroke="#9cc9d4" stroke-width="4" stroke-dasharray="4 8 4 20 8 12 16 8" opacity="0.43"/><path d="M2886.0,364.9 L2885.9,378.0 L2885.8,386.6 L2885.4,394.1 L2885.0,400.8 L2884.5,407.1 L2883.8,413.1 L2883.0,418.7 L2882.1,424.1 L2881.0,429.3 L2879.9,434.3 L2878.6,439.2 L2877.2,443.9 L2875.7,448.5 L2874.0,452.9 L2872.2,457.2 L2870.3,461.4 L2868.3,465.5 L2866.2,469.4 L2863.9,473.3 L2861.6,477.0 L2859.1,480.7 L2856.5,484.2 L2853.7,487.7 L2850.9,491.0 L2847.9,494.3 L2844.8,497.4 L2841.6,500.5 L2838.2,503.5 L2834.8,506.4 L2831.2,509.1 L2827.5,511.8 L2823.7,514.5 L2819.7,517.0 L2815.7,519.4 L2811.5,521.7 L2807.1,524.0 L2802.7,526.1 L2798.1,528.2 L2793.4,530.2 L2788.6,532.1 L2783.6,533.9 L2778.5,535.6 L2773.3,537.2 L2767.9,538.7 L2762.3,540.1 L2756.6,541.5 L2750.8,542.7 L2744.7,543.8 L2738.5,544.9 L2732.0,545.9 L2725.4,546.8 L2718.5,547.5 L2711.3,548.2 L2703.8,548.8 L2696.0,549.3 L2687.6,549.8 L2678.6,550.1 L2668.8,550.3 L2657.4,550.5 L2640.0,550.5 L2622.6,550.5 L2611.2,550.3 L2601.4,550.1 L2592.4,549.8 L2584.0,549.3 L2576.2,548.8 L2568.7,548.2 L2561.5,547.5 L2554.6,546.8 L2548.0,545.9 L2541.5,544.9 L2535.3,543.8 L2529.2,542.7 L2523.4,541.5 L2517.7,540.1 L2512.1,538.7 L2506.7,537.2 L2501.5,535.6 L2496.4,533.9 L2491.4,532.1 L2486.6,530.2 L2481.9,528.2 L2477.3,526.1 L2472.9,524.0 L2468.5,521.7 L2464.3,519.4 L2460.3,517.0 L2456.3,514.5 L2452.5,511.8 L2448.8,509.1 L2445.2,506.4 L2441.8,503.5 L2438.4,500.5 L2435.2,497.4 L2432.1,494.3 L2429.1,491.0 L2426.3,487.7 L2423.5,484.2 L2420.9,480.7 L2418.4,477.0 L2416.1,473.3 L2413.8,469.4 L2411.7,465.5 L2409.7,461.4 L2407.8,457.2 L2406.0,452.9 L2404.3,448.5 L2402.8,443.9 L2401.4,439.2 L2400.1,434.3 L2399.0,429.3 L2397.9,424.1 L2397.0,418.7 L2396.2,413.1 L2395.5,407.1 L2395.0,400.8 L2394.6,394.1 L2394.2,386.6 L2394.1,378.0 L2394.0,364.9 L2394.1,356.0 L2394.3,349.0 L2394.6,342.6 L2395.1,336.6 L2395.8,330.9 L2396.5,325.3 L2397.4,320.0 L2398.5,314.8 L2399.7,309.7 L2401.0,304.7 L2402.5,299.9 L2404.1,295.1 L2405.8,290.5 L2407.7,286.0 L2409.7,281.5 L2411.9,277.2 L2414.1,272.9 L2416.6,268.8 L2419.1,264.7 L2421.8,260.7 L2424.6,256.8 L2427.5,253.0 L2430.6,249.3 L2433.8,245.7 L2437.2,242.2 L2440.6,238.7 L2444.2,235.4 L2447.9,232.1 L2451.7,228.9 L2455.7,225.9 L2459.8,222.9 L2464.0,220.0 L2468.3,217.2 L2472.8,214.5 L2477.3,211.9 L2482.0,209.3 L2486.8,206.9 L2491.7,204.6 L2496.8,202.4 L2501.9,200.3 L2507.2,198.2 L2512.6,196.3 L2518.1,194.5 L2523.8,192.8 L2529.5,191.2 L2535.4,189.6 L2541.4,188.2 L2547.5,186.9 L2553.8,185.7 L2560.2,184.6 L2566.8,183.6 L2573.5,182.7 L2580.5,181.9 L2587.6,181.2 L2594.9,180.6 L2602.5,180.1 L2610.5,179.8 L2618.9,179.5 L2628.2,179.4 L2640.0,179.3 L2651.8,179.4 L2661.1,179.5 L2669.5,179.8 L2677.5,180.1 L2685.1,180.6 L2692.4,181.2 L2699.5,181.9 L2706.5,182.7 L2713.2,183.6 L2719.8,184.6 L2726.2,185.7 L2732.5,186.9 L2738.6,188.2 L2744.6,189.6 L2750.5,191.2 L2756.2,192.8 L2761.9,194.5 L2767.4,196.3 L2772.8,198.2 L2778.1,200.3 L2783.2,202.4 L2788.3,204.6 L2793.2,206.9 L2798.0,209.3 L2802.7,211.9 L2807.2,214.5 L2811.7,217.2 L2816.0,220.0 L2820.2,222.9 L2824.3,225.9 L2828.3,228.9 L2832.1,232.1 L2835.8,235.4 L2839.4,238.7 L2842.8,242.2 L2846.2,245.7 L2849.4,249.3 L2852.5,253.0 L2855.4,256.8 L2858.2,260.7 L2860.9,264.7 L2863.4,268.8 L2865.9,272.9 L2868.1,277.2 L2870.3,281.5 L2872.3,286.0 L2874.2,290.5 L2875.9,295.1 L2877.5,299.9 L2879.0,304.7 L2880.3,309.7 L2881.5,314.8 L2882.6,320.0 L2883.5,325.3 L2884.2,330.9 L2884.9,336.6 L2885.4,342.6 L2885.7,349.0 L2885.9,356.0Z" fill="none" stroke="#8fb8e6" stroke-width="4" stroke-dasharray="4 20 12 20 8 4 20 20" opacity="0.39"/><path d="M2882.0,364.9 L2881.9,377.7 L2881.8,386.1 L2881.5,393.4 L2881.0,400.0 L2880.5,406.2 L2879.8,412.0 L2879.0,417.5 L2878.1,422.8 L2877.1,427.9 L2876.0,432.9 L2874.7,437.6 L2873.3,442.2 L2871.8,446.7 L2870.2,451.0 L2868.5,455.2 L2866.6,459.3 L2864.6,463.3 L2862.5,467.2 L2860.3,470.9 L2858.0,474.6 L2855.5,478.2 L2852.9,481.6 L2850.2,485.0 L2847.4,488.3 L2844.5,491.5 L2841.5,494.6 L2838.3,497.6 L2835.0,500.5 L2831.6,503.3 L2828.1,506.0 L2824.4,508.7 L2820.7,511.2 L2816.8,513.7 L2812.8,516.1 L2808.7,518.4 L2804.4,520.6 L2800.1,522.7 L2795.6,524.7 L2790.9,526.6 L2786.2,528.5 L2781.3,530.2 L2776.3,531.9 L2771.1,533.5 L2765.8,534.9 L2760.3,536.3 L2754.7,537.6 L2749.0,538.9 L2743.0,540.0 L2736.9,541.0 L2730.6,542.0 L2724.0,542.8 L2717.2,543.6 L2710.2,544.3 L2702.8,544.9 L2695.0,545.4 L2686.8,545.8 L2678.0,546.1 L2668.3,546.3 L2657.1,546.5 L2640.0,546.5 L2622.9,546.5 L2611.7,546.3 L2602.0,546.1 L2593.2,545.8 L2585.0,545.4 L2577.2,544.9 L2569.8,544.3 L2562.8,543.6 L2556.0,542.8 L2549.4,542.0 L2543.1,541.0 L2537.0,540.0 L2531.0,538.9 L2525.3,537.6 L2519.7,536.3 L2514.2,534.9 L2508.9,533.5 L2503.7,531.9 L2498.7,530.2 L2493.8,528.5 L2489.1,526.6 L2484.4,524.7 L2479.9,522.7 L2475.6,520.6 L2471.3,518.4 L2467.2,516.1 L2463.2,513.7 L2459.3,511.2 L2455.6,508.7 L2451.9,506.0 L2448.4,503.3 L2445.0,500.5 L2441.7,497.6 L2438.5,494.6 L2435.5,491.5 L2432.6,488.3 L2429.8,485.0 L2427.1,481.6 L2424.5,478.2 L2422.0,474.6 L2419.7,470.9 L2417.5,467.2 L2415.4,463.3 L2413.4,459.3 L2411.5,455.2 L2409.8,451.0 L2408.2,446.7 L2406.7,442.2 L2405.3,437.6 L2404.0,432.9 L2402.9,427.9 L2401.9,422.8 L2401.0,417.5 L2400.2,412.0 L2399.5,406.2 L2399.0,400.0 L2398.5,393.4 L2398.2,386.1 L2398.1,377.7 L2398.0,364.9 L2398.1,356.2 L2398.3,349.4 L2398.6,343.1 L2399.1,337.2 L2399.7,331.6 L2400.5,326.2 L2401.4,320.9 L2402.4,315.8 L2403.6,310.9 L2404.9,306.0 L2406.3,301.3 L2407.9,296.7 L2409.6,292.1 L2411.5,287.7 L2413.5,283.3 L2415.6,279.1 L2417.8,274.9 L2420.2,270.9 L2422.7,266.9 L2425.3,263.0 L2428.1,259.2 L2431.0,255.5 L2434.0,251.8 L2437.2,248.3 L2440.5,244.8 L2443.9,241.4 L2447.4,238.2 L2451.0,235.0 L2454.8,231.9 L2458.7,228.9 L2462.7,225.9 L2466.9,223.1 L2471.1,220.4 L2475.5,217.7 L2480.0,215.2 L2484.6,212.7 L2489.3,210.3 L2494.2,208.1 L2499.1,205.9 L2504.2,203.8 L2509.4,201.8 L2514.7,200.0 L2520.1,198.2 L2525.6,196.5 L2531.3,194.9 L2537.1,193.4 L2543.0,192.0 L2549.1,190.7 L2555.2,189.6 L2561.5,188.5 L2568.0,187.5 L2574.6,186.6 L2581.4,185.8 L2588.4,185.2 L2595.6,184.6 L2603.1,184.1 L2611.0,183.8 L2619.3,183.5 L2628.4,183.4 L2640.0,183.3 L2651.6,183.4 L2660.7,183.5 L2669.0,183.8 L2676.9,184.1 L2684.4,184.6 L2691.6,185.2 L2698.6,185.8 L2705.4,186.6 L2712.0,187.5 L2718.5,188.5 L2724.8,189.6 L2730.9,190.7 L2737.0,192.0 L2742.9,193.4 L2748.7,194.9 L2754.4,196.5 L2759.9,198.2 L2765.3,200.0 L2770.6,201.8 L2775.8,203.8 L2780.9,205.9 L2785.8,208.1 L2790.7,210.3 L2795.4,212.7 L2800.0,215.2 L2804.5,217.7 L2808.9,220.4 L2813.1,223.1 L2817.3,225.9 L2821.3,228.9 L2825.2,231.9 L2829.0,235.0 L2832.6,238.2 L2836.1,241.4 L2839.5,244.8 L2842.8,248.3 L2846.0,251.8 L2849.0,255.5 L2851.9,259.2 L2854.7,263.0 L2857.3,266.9 L2859.8,270.9 L2862.2,274.9 L2864.4,279.1 L2866.5,283.3 L2868.5,287.7 L2870.4,292.1 L2872.1,296.7 L2873.7,301.3 L2875.1,306.0 L2876.4,310.9 L2877.6,315.8 L2878.6,320.9 L2879.5,326.2 L2880.3,331.6 L2880.9,337.2 L2881.4,343.1 L2881.7,349.4 L2881.9,356.2Z" fill="none" stroke="#6db9c9" stroke-width="4" stroke-dasharray="12 4 20 4 20 4 20 8" opacity="0.35"/><path d="M2878.0,364.9 L2877.9,377.5 L2877.8,385.7 L2877.5,392.8 L2877.1,399.3 L2876.5,405.3 L2875.9,411.0 L2875.1,416.4 L2874.2,421.6 L2873.2,426.6 L2872.1,431.4 L2870.8,436.0 L2869.5,440.5 L2868.0,444.9 L2866.4,449.1 L2864.7,453.2 L2862.9,457.2 L2860.9,461.1 L2858.8,464.9 L2856.7,468.6 L2854.4,472.2 L2851.9,475.7 L2849.4,479.1 L2846.8,482.4 L2844.0,485.6 L2841.1,488.7 L2838.1,491.7 L2835.0,494.7 L2831.8,497.5 L2828.4,500.3 L2825.0,502.9 L2821.4,505.5 L2817.7,508.0 L2813.9,510.4 L2809.9,512.7 L2805.9,515.0 L2801.7,517.1 L2797.4,519.2 L2793.0,521.2 L2788.4,523.1 L2783.8,524.9 L2779.0,526.6 L2774.0,528.2 L2768.9,529.7 L2763.7,531.2 L2758.4,532.6 L2752.8,533.8 L2747.2,535.0 L2741.3,536.1 L2735.3,537.2 L2729.1,538.1 L2722.6,538.9 L2715.9,539.7 L2709.0,540.3 L2701.7,540.9 L2694.1,541.4 L2686.1,541.8 L2677.4,542.1 L2667.8,542.3 L2656.8,542.5 L2640.0,542.5 L2623.2,542.5 L2612.2,542.3 L2602.6,542.1 L2593.9,541.8 L2585.9,541.4 L2578.3,540.9 L2571.0,540.3 L2564.1,539.7 L2557.4,538.9 L2550.9,538.1 L2544.7,537.2 L2538.7,536.1 L2532.8,535.0 L2527.2,533.8 L2521.6,532.6 L2516.3,531.2 L2511.1,529.7 L2506.0,528.2 L2501.0,526.6 L2496.2,524.9 L2491.6,523.1 L2487.0,521.2 L2482.6,519.2 L2478.3,517.1 L2474.1,515.0 L2470.1,512.7 L2466.1,510.4 L2462.3,508.0 L2458.6,505.5 L2455.0,502.9 L2451.6,500.3 L2448.2,497.5 L2445.0,494.7 L2441.9,491.7 L2438.9,488.7 L2436.0,485.6 L2433.2,482.4 L2430.6,479.1 L2428.1,475.7 L2425.6,472.2 L2423.3,468.6 L2421.2,464.9 L2419.1,461.1 L2417.1,457.2 L2415.3,453.2 L2413.6,449.1 L2412.0,444.9 L2410.5,440.5 L2409.2,436.0 L2407.9,431.4 L2406.8,426.6 L2405.8,421.6 L2404.9,416.4 L2404.1,411.0 L2403.5,405.3 L2402.9,399.3 L2402.5,392.8 L2402.2,385.7 L2402.1,377.5 L2402.0,364.9 L2402.1,356.4 L2402.3,349.7 L2402.6,343.6 L2403.1,337.9 L2403.7,332.4 L2404.4,327.1 L2405.3,321.9 L2406.3,316.9 L2407.5,312.1 L2408.8,307.3 L2410.2,302.7 L2411.7,298.2 L2413.4,293.7 L2415.2,289.4 L2417.2,285.1 L2419.3,281.0 L2421.5,276.9 L2423.8,272.9 L2426.3,269.0 L2428.9,265.2 L2431.6,261.5 L2434.5,257.9 L2437.4,254.3 L2440.5,250.8 L2443.8,247.5 L2447.1,244.2 L2450.6,241.0 L2454.2,237.8 L2457.9,234.8 L2461.7,231.9 L2465.7,229.0 L2469.7,226.2 L2473.9,223.5 L2478.2,221.0 L2482.6,218.5 L2487.2,216.1 L2491.8,213.7 L2496.6,211.5 L2501.4,209.4 L2506.4,207.4 L2511.5,205.4 L2516.8,203.6 L2522.1,201.8 L2527.5,200.2 L2533.1,198.6 L2538.8,197.2 L2544.6,195.8 L2550.6,194.6 L2556.6,193.4 L2562.8,192.4 L2569.2,191.4 L2575.7,190.5 L2582.4,189.8 L2589.3,189.1 L2596.4,188.6 L2603.8,188.1 L2611.5,187.8 L2619.6,187.5 L2628.6,187.4 L2640.0,187.3 L2651.4,187.4 L2660.4,187.5 L2668.5,187.8 L2676.2,188.1 L2683.6,188.6 L2690.7,189.1 L2697.6,189.8 L2704.3,190.5 L2710.8,191.4 L2717.2,192.4 L2723.4,193.4 L2729.4,194.6 L2735.4,195.8 L2741.2,197.2 L2746.9,198.6 L2752.5,200.2 L2757.9,201.8 L2763.2,203.6 L2768.5,205.4 L2773.6,207.4 L2778.6,209.4 L2783.4,211.5 L2788.2,213.7 L2792.8,216.1 L2797.4,218.5 L2801.8,221.0 L2806.1,223.5 L2810.3,226.2 L2814.3,229.0 L2818.3,231.9 L2822.1,234.8 L2825.8,237.8 L2829.4,241.0 L2832.9,244.2 L2836.2,247.5 L2839.5,250.8 L2842.6,254.3 L2845.5,257.9 L2848.4,261.5 L2851.1,265.2 L2853.7,269.0 L2856.2,272.9 L2858.5,276.9 L2860.7,281.0 L2862.8,285.1 L2864.8,289.4 L2866.6,293.7 L2868.3,298.2 L2869.8,302.7 L2871.2,307.3 L2872.5,312.1 L2873.7,316.9 L2874.7,321.9 L2875.6,327.1 L2876.3,332.4 L2876.9,337.9 L2877.4,343.6 L2877.7,349.7 L2877.9,356.4Z" fill="none" stroke="#74c2cf" stroke-width="4" stroke-dasharray="20 16 12 16 20 16 12 12" opacity="0.31"/><path d="M2874.0,364.9 L2873.9,377.2 L2873.8,385.2 L2873.5,392.2 L2873.1,398.5 L2872.5,404.4 L2871.9,409.9 L2871.1,415.2 L2870.3,420.3 L2869.3,425.2 L2868.2,429.9 L2867.0,434.4 L2865.6,438.8 L2864.2,443.1 L2862.6,447.2 L2860.9,451.2 L2859.1,455.1 L2857.2,458.9 L2855.2,462.7 L2853.0,466.3 L2850.8,469.8 L2848.4,473.2 L2845.9,476.5 L2843.3,479.7 L2840.6,482.9 L2837.7,485.9 L2834.8,488.9 L2831.7,491.7 L2828.6,494.5 L2825.3,497.2 L2821.9,499.8 L2818.3,502.3 L2814.7,504.8 L2811.0,507.1 L2807.1,509.4 L2803.1,511.6 L2799.0,513.7 L2794.8,515.7 L2790.4,517.6 L2785.9,519.5 L2781.3,521.3 L2776.6,522.9 L2771.8,524.5 L2766.8,526.0 L2761.6,527.5 L2756.4,528.8 L2750.9,530.0 L2745.4,531.2 L2739.6,532.3 L2733.7,533.3 L2727.6,534.2 L2721.2,535.0 L2714.7,535.7 L2707.8,536.4 L2700.7,536.9 L2693.2,537.4 L2685.3,537.8 L2676.8,538.1 L2667.4,538.3 L2656.5,538.5 L2640.0,538.5 L2623.5,538.5 L2612.6,538.3 L2603.2,538.1 L2594.7,537.8 L2586.8,537.4 L2579.3,536.9 L2572.2,536.4 L2565.3,535.7 L2558.8,535.0 L2552.4,534.2 L2546.3,533.3 L2540.4,532.3 L2534.6,531.2 L2529.1,530.0 L2523.6,528.8 L2518.4,527.5 L2513.2,526.0 L2508.2,524.5 L2503.4,522.9 L2498.7,521.3 L2494.1,519.5 L2489.6,517.6 L2485.2,515.7 L2481.0,513.7 L2476.9,511.6 L2472.9,509.4 L2469.0,507.1 L2465.3,504.8 L2461.7,502.3 L2458.1,499.8 L2454.7,497.2 L2451.4,494.5 L2448.3,491.7 L2445.2,488.9 L2442.3,485.9 L2439.4,482.9 L2436.7,479.7 L2434.1,476.5 L2431.6,473.2 L2429.2,469.8 L2427.0,466.3 L2424.8,462.7 L2422.8,458.9 L2420.9,455.1 L2419.1,451.2 L2417.4,447.2 L2415.8,443.1 L2414.4,438.8 L2413.0,434.4 L2411.8,429.9 L2410.7,425.2 L2409.7,420.3 L2408.9,415.2 L2408.1,409.9 L2407.5,404.4 L2406.9,398.5 L2406.5,392.2 L2406.2,385.2 L2406.1,377.2 L2406.0,364.9 L2406.1,356.6 L2406.3,350.0 L2406.6,344.1 L2407.1,338.5 L2407.7,333.1 L2408.4,327.9 L2409.3,322.9 L2410.3,318.0 L2411.4,313.3 L2412.7,308.6 L2414.1,304.1 L2415.6,299.7 L2417.2,295.3 L2419.0,291.1 L2420.9,286.9 L2423.0,282.9 L2425.2,278.9 L2427.5,275.0 L2429.9,271.2 L2432.4,267.5 L2435.1,263.8 L2437.9,260.3 L2440.8,256.8 L2443.9,253.4 L2447.1,250.1 L2450.3,246.9 L2453.8,243.7 L2457.3,240.7 L2460.9,237.7 L2464.7,234.8 L2468.6,232.1 L2472.6,229.3 L2476.7,226.7 L2480.9,224.2 L2485.3,221.8 L2489.7,219.4 L2494.3,217.1 L2499.0,215.0 L2503.8,212.9 L2508.7,210.9 L2513.7,209.0 L2518.8,207.2 L2524.1,205.5 L2529.4,203.9 L2534.9,202.4 L2540.5,201.0 L2546.2,199.6 L2552.1,198.4 L2558.0,197.3 L2564.1,196.2 L2570.4,195.3 L2576.8,194.5 L2583.4,193.7 L2590.1,193.1 L2597.1,192.5 L2604.4,192.1 L2611.9,191.7 L2620.0,191.5 L2628.8,191.3 L2640.0,191.3 L2651.2,191.3 L2660.0,191.5 L2668.1,191.7 L2675.6,192.1 L2682.9,192.5 L2689.9,193.1 L2696.6,193.7 L2703.2,194.5 L2709.6,195.3 L2715.9,196.2 L2722.0,197.3 L2727.9,198.4 L2733.8,199.6 L2739.5,201.0 L2745.1,202.4 L2750.6,203.9 L2755.9,205.5 L2761.2,207.2 L2766.3,209.0 L2771.3,210.9 L2776.2,212.9 L2781.0,215.0 L2785.7,217.1 L2790.3,219.4 L2794.7,221.8 L2799.1,224.2 L2803.3,226.7 L2807.4,229.3 L2811.4,232.1 L2815.3,234.8 L2819.1,237.7 L2822.7,240.7 L2826.2,243.7 L2829.7,246.9 L2832.9,250.1 L2836.1,253.4 L2839.2,256.8 L2842.1,260.3 L2844.9,263.8 L2847.6,267.5 L2850.1,271.2 L2852.5,275.0 L2854.8,278.9 L2857.0,282.9 L2859.1,286.9 L2861.0,291.1 L2862.8,295.3 L2864.4,299.7 L2865.9,304.1 L2867.3,308.6 L2868.6,313.3 L2869.7,318.0 L2870.7,322.9 L2871.6,327.9 L2872.3,333.1 L2872.9,338.5 L2873.4,344.1 L2873.7,350.0 L2873.9,356.6Z" fill="none" stroke="#6db9c9" stroke-width="4" stroke-dasharray="8 8 4 20 12 20 16 12" opacity="0.27"/><path d="M2870.0,364.9 L2869.9,376.9 L2869.8,384.7 L2869.5,391.5 L2869.1,397.7 L2868.6,403.5 L2867.9,408.9 L2867.2,414.1 L2866.3,419.0 L2865.4,423.8 L2864.3,428.4 L2863.1,432.8 L2861.8,437.1 L2860.3,441.3 L2858.8,445.3 L2857.1,449.2 L2855.4,453.1 L2853.5,456.8 L2851.5,460.4 L2849.4,463.9 L2847.2,467.3 L2844.8,470.7 L2842.4,473.9 L2839.8,477.1 L2837.1,480.1 L2834.4,483.1 L2831.5,486.0 L2828.5,488.8 L2825.3,491.5 L2822.1,494.2 L2818.8,496.7 L2815.3,499.2 L2811.7,501.6 L2808.0,503.9 L2804.2,506.1 L2800.3,508.2 L2796.3,510.3 L2792.1,512.2 L2787.8,514.1 L2783.4,515.9 L2778.9,517.7 L2774.3,519.3 L2769.5,520.8 L2764.6,522.3 L2759.6,523.7 L2754.4,525.0 L2749.0,526.2 L2743.6,527.4 L2737.9,528.4 L2732.1,529.4 L2726.1,530.3 L2719.8,531.1 L2713.4,531.8 L2706.7,532.4 L2699.7,533.0 L2692.3,533.4 L2684.5,533.8 L2676.1,534.1 L2666.9,534.3 L2656.3,534.5 L2640.0,534.5 L2623.7,534.5 L2613.1,534.3 L2603.9,534.1 L2595.5,533.8 L2587.7,533.4 L2580.3,533.0 L2573.3,532.4 L2566.6,531.8 L2560.2,531.1 L2553.9,530.3 L2547.9,529.4 L2542.1,528.4 L2536.4,527.4 L2531.0,526.2 L2525.6,525.0 L2520.4,523.7 L2515.4,522.3 L2510.5,520.8 L2505.7,519.3 L2501.1,517.7 L2496.6,515.9 L2492.2,514.1 L2487.9,512.2 L2483.7,510.3 L2479.7,508.2 L2475.8,506.1 L2472.0,503.9 L2468.3,501.6 L2464.7,499.2 L2461.2,496.7 L2457.9,494.2 L2454.7,491.5 L2451.5,488.8 L2448.5,486.0 L2445.6,483.1 L2442.9,480.1 L2440.2,477.1 L2437.6,473.9 L2435.2,470.7 L2432.8,467.3 L2430.6,463.9 L2428.5,460.4 L2426.5,456.8 L2424.6,453.1 L2422.9,449.2 L2421.2,445.3 L2419.7,441.3 L2418.2,437.1 L2416.9,432.8 L2415.7,428.4 L2414.6,423.8 L2413.7,419.0 L2412.8,414.1 L2412.1,408.9 L2411.4,403.5 L2410.9,397.7 L2410.5,391.5 L2410.2,384.7 L2410.1,376.9 L2410.0,364.9 L2410.1,356.8 L2410.3,350.4 L2410.6,344.6 L2411.1,339.1 L2411.6,333.8 L2412.4,328.8 L2413.2,323.9 L2414.2,319.1 L2415.3,314.4 L2416.5,309.9 L2417.9,305.5 L2419.4,301.2 L2421.0,296.9 L2422.8,292.8 L2424.7,288.7 L2426.7,284.8 L2428.8,280.9 L2431.1,277.1 L2433.5,273.4 L2436.0,269.7 L2438.6,266.2 L2441.4,262.7 L2444.2,259.3 L2447.2,256.0 L2450.4,252.8 L2453.6,249.6 L2456.9,246.5 L2460.4,243.6 L2464.0,240.7 L2467.7,237.8 L2471.5,235.1 L2475.4,232.5 L2479.5,229.9 L2483.6,227.4 L2487.9,225.1 L2492.3,222.8 L2496.8,220.5 L2501.4,218.4 L2506.1,216.4 L2510.9,214.5 L2515.8,212.6 L2520.9,210.9 L2526.0,209.2 L2531.3,207.6 L2536.7,206.1 L2542.2,204.7 L2547.8,203.4 L2553.6,202.2 L2559.4,201.1 L2565.4,200.1 L2571.6,199.2 L2577.9,198.4 L2584.3,197.7 L2591.0,197.0 L2597.8,196.5 L2605.0,196.1 L2612.4,195.7 L2620.3,195.5 L2629.0,195.3 L2640.0,195.3 L2651.0,195.3 L2659.7,195.5 L2667.6,195.7 L2675.0,196.1 L2682.2,196.5 L2689.0,197.0 L2695.7,197.7 L2702.1,198.4 L2708.4,199.2 L2714.6,200.1 L2720.6,201.1 L2726.4,202.2 L2732.2,203.4 L2737.8,204.7 L2743.3,206.1 L2748.7,207.6 L2754.0,209.2 L2759.1,210.9 L2764.2,212.6 L2769.1,214.5 L2773.9,216.4 L2778.6,218.4 L2783.2,220.5 L2787.7,222.8 L2792.1,225.1 L2796.4,227.4 L2800.5,229.9 L2804.6,232.5 L2808.5,235.1 L2812.3,237.8 L2816.0,240.7 L2819.6,243.6 L2823.1,246.5 L2826.4,249.6 L2829.6,252.8 L2832.8,256.0 L2835.8,259.3 L2838.6,262.7 L2841.4,266.2 L2844.0,269.7 L2846.5,273.4 L2848.9,277.1 L2851.2,280.9 L2853.3,284.8 L2855.3,288.7 L2857.2,292.8 L2859.0,296.9 L2860.6,301.2 L2862.1,305.5 L2863.5,309.9 L2864.7,314.4 L2865.8,319.1 L2866.8,323.9 L2867.6,328.8 L2868.4,333.8 L2868.9,339.1 L2869.4,344.6 L2869.7,350.4 L2869.9,356.8Z" fill="none" stroke="#74c2cf" stroke-width="4" stroke-dasharray="12 20 4 4 20 16 8 12" opacity="0.23"/><path d="M2866.0,364.9 L2865.9,376.6 L2865.8,384.3 L2865.5,390.9 L2865.1,396.9 L2864.6,402.6 L2864.0,407.9 L2863.2,412.9 L2862.4,417.7 L2861.4,422.4 L2860.4,426.9 L2859.2,431.2 L2857.9,435.4 L2856.5,439.5 L2855.0,443.4 L2853.4,447.3 L2851.6,451.0 L2849.8,454.6 L2847.8,458.1 L2845.7,461.6 L2843.6,464.9 L2841.3,468.2 L2838.9,471.3 L2836.3,474.4 L2833.7,477.4 L2831.0,480.3 L2828.1,483.1 L2825.2,485.9 L2822.1,488.5 L2818.9,491.1 L2815.6,493.6 L2812.2,496.0 L2808.7,498.3 L2805.1,500.6 L2801.4,502.8 L2797.5,504.8 L2793.6,506.8 L2789.5,508.8 L2785.3,510.6 L2781.0,512.4 L2776.5,514.1 L2771.9,515.7 L2767.3,517.2 L2762.4,518.6 L2757.5,520.0 L2752.4,521.2 L2747.1,522.4 L2741.8,523.5 L2736.2,524.6 L2730.5,525.5 L2724.6,526.4 L2718.5,527.2 L2712.1,527.9 L2705.5,528.5 L2698.6,529.0 L2691.4,529.5 L2683.7,529.8 L2675.5,530.1 L2666.4,530.3 L2656.0,530.5 L2640.0,530.5 L2624.0,530.5 L2613.6,530.3 L2604.5,530.1 L2596.3,529.8 L2588.6,529.5 L2581.4,529.0 L2574.5,528.5 L2567.9,527.9 L2561.5,527.2 L2555.4,526.4 L2549.5,525.5 L2543.8,524.6 L2538.2,523.5 L2532.9,522.4 L2527.6,521.2 L2522.5,520.0 L2517.6,518.6 L2512.7,517.2 L2508.1,515.7 L2503.5,514.1 L2499.0,512.4 L2494.7,510.6 L2490.5,508.8 L2486.4,506.8 L2482.5,504.8 L2478.6,502.8 L2474.9,500.6 L2471.3,498.3 L2467.8,496.0 L2464.4,493.6 L2461.1,491.1 L2457.9,488.5 L2454.8,485.9 L2451.9,483.1 L2449.0,480.3 L2446.3,477.4 L2443.7,474.4 L2441.1,471.3 L2438.7,468.2 L2436.4,464.9 L2434.3,461.6 L2432.2,458.1 L2430.2,454.6 L2428.4,451.0 L2426.6,447.3 L2425.0,443.4 L2423.5,439.5 L2422.1,435.4 L2420.8,431.2 L2419.6,426.9 L2418.6,422.4 L2417.6,417.7 L2416.8,412.9 L2416.0,407.9 L2415.4,402.6 L2414.9,396.9 L2414.5,390.9 L2414.2,384.3 L2414.1,376.6 L2414.0,364.9 L2414.1,356.9 L2414.3,350.7 L2414.6,345.0 L2415.0,339.7 L2415.6,334.6 L2416.3,329.6 L2417.2,324.8 L2418.1,320.2 L2419.2,315.6 L2420.4,311.2 L2421.8,306.9 L2423.3,302.7 L2424.9,298.5 L2426.6,294.5 L2428.4,290.5 L2430.4,286.6 L2432.5,282.9 L2434.7,279.1 L2437.1,275.5 L2439.5,272.0 L2442.1,268.5 L2444.8,265.1 L2447.6,261.8 L2450.6,258.5 L2453.6,255.4 L2456.8,252.3 L2460.1,249.3 L2463.5,246.4 L2467.1,243.6 L2470.7,240.8 L2474.4,238.2 L2478.3,235.6 L2482.3,233.1 L2486.4,230.7 L2490.6,228.4 L2494.9,226.1 L2499.3,224.0 L2503.8,221.9 L2508.4,219.9 L2513.2,218.0 L2518.0,216.2 L2523.0,214.5 L2528.0,212.9 L2533.2,211.3 L2538.5,209.9 L2543.9,208.5 L2549.4,207.3 L2555.1,206.1 L2560.8,205.0 L2566.7,204.0 L2572.8,203.1 L2579.0,202.3 L2585.3,201.6 L2591.8,201.0 L2598.6,200.5 L2605.6,200.1 L2612.9,199.7 L2620.7,199.5 L2629.1,199.3 L2640.0,199.3 L2650.9,199.3 L2659.3,199.5 L2667.1,199.7 L2674.4,200.1 L2681.4,200.5 L2688.2,201.0 L2694.7,201.6 L2701.0,202.3 L2707.2,203.1 L2713.3,204.0 L2719.2,205.0 L2724.9,206.1 L2730.6,207.3 L2736.1,208.5 L2741.5,209.9 L2746.8,211.3 L2752.0,212.9 L2757.0,214.5 L2762.0,216.2 L2766.8,218.0 L2771.6,219.9 L2776.2,221.9 L2780.7,224.0 L2785.1,226.1 L2789.4,228.4 L2793.6,230.7 L2797.7,233.1 L2801.7,235.6 L2805.6,238.2 L2809.3,240.8 L2812.9,243.6 L2816.5,246.4 L2819.9,249.3 L2823.2,252.3 L2826.4,255.4 L2829.4,258.5 L2832.4,261.8 L2835.2,265.1 L2837.9,268.5 L2840.5,272.0 L2842.9,275.5 L2845.3,279.1 L2847.5,282.9 L2849.6,286.6 L2851.6,290.5 L2853.4,294.5 L2855.1,298.5 L2856.7,302.7 L2858.2,306.9 L2859.6,311.2 L2860.8,315.6 L2861.9,320.2 L2862.8,324.8 L2863.7,329.6 L2864.4,334.6 L2865.0,339.7 L2865.4,345.0 L2865.7,350.7 L2865.9,356.9Z" fill="none" stroke="#a3d8ea" stroke-width="4" stroke-dasharray="16 16 4 4 20 20 12 12" opacity="0.19"/><path d="M2862.0,364.9 L2861.9,376.3 L2861.8,383.8 L2861.5,390.3 L2861.1,396.2 L2860.6,401.7 L2860.0,406.8 L2859.3,411.8 L2858.5,416.5 L2857.5,421.0 L2856.5,425.4 L2855.3,429.6 L2854.0,433.7 L2852.7,437.7 L2851.2,441.5 L2849.6,445.3 L2847.9,448.9 L2846.1,452.4 L2844.1,455.9 L2842.1,459.2 L2839.9,462.5 L2837.7,465.7 L2835.3,468.8 L2832.9,471.8 L2830.3,474.7 L2827.6,477.5 L2824.8,480.3 L2821.9,483.0 L2818.9,485.6 L2815.8,488.1 L2812.5,490.5 L2809.2,492.8 L2805.7,495.1 L2802.2,497.3 L2798.5,499.4 L2794.7,501.5 L2790.8,503.4 L2786.8,505.3 L2782.7,507.1 L2778.5,508.8 L2774.1,510.4 L2769.6,512.0 L2765.0,513.5 L2760.3,514.9 L2755.4,516.2 L2750.4,517.5 L2745.3,518.6 L2740.0,519.7 L2734.5,520.7 L2728.9,521.6 L2723.1,522.5 L2717.1,523.2 L2710.8,523.9 L2704.4,524.5 L2697.6,525.1 L2690.5,525.5 L2683.0,525.9 L2674.9,526.1 L2666.0,526.3 L2655.7,526.5 L2640.0,526.5 L2624.3,526.5 L2614.0,526.3 L2605.1,526.1 L2597.0,525.9 L2589.5,525.5 L2582.4,525.1 L2575.6,524.5 L2569.2,523.9 L2562.9,523.2 L2556.9,522.5 L2551.1,521.6 L2545.5,520.7 L2540.0,519.7 L2534.7,518.6 L2529.6,517.5 L2524.6,516.2 L2519.7,514.9 L2515.0,513.5 L2510.4,512.0 L2505.9,510.4 L2501.5,508.8 L2497.3,507.1 L2493.2,505.3 L2489.2,503.4 L2485.3,501.5 L2481.5,499.4 L2477.8,497.3 L2474.3,495.1 L2470.8,492.8 L2467.5,490.5 L2464.2,488.1 L2461.1,485.6 L2458.1,483.0 L2455.2,480.3 L2452.4,477.5 L2449.7,474.7 L2447.1,471.8 L2444.7,468.8 L2442.3,465.7 L2440.1,462.5 L2437.9,459.2 L2435.9,455.9 L2433.9,452.4 L2432.1,448.9 L2430.4,445.3 L2428.8,441.5 L2427.3,437.7 L2426.0,433.7 L2424.7,429.6 L2423.5,425.4 L2422.5,421.0 L2421.5,416.5 L2420.7,411.8 L2420.0,406.8 L2419.4,401.7 L2418.9,396.2 L2418.5,390.3 L2418.2,383.8 L2418.1,376.3 L2418.0,364.9 L2418.1,357.1 L2418.3,351.1 L2418.6,345.5 L2419.0,340.3 L2419.6,335.3 L2420.3,330.5 L2421.1,325.8 L2422.1,321.2 L2423.1,316.8 L2424.3,312.5 L2425.6,308.3 L2427.1,304.2 L2428.7,300.1 L2430.4,296.2 L2432.2,292.3 L2434.1,288.5 L2436.2,284.8 L2438.4,281.2 L2440.7,277.7 L2443.1,274.2 L2445.6,270.8 L2448.3,267.5 L2451.0,264.3 L2453.9,261.1 L2456.9,258.0 L2460.1,255.0 L2463.3,252.1 L2466.7,249.3 L2470.1,246.5 L2473.7,243.8 L2477.4,241.2 L2481.2,238.7 L2485.1,236.3 L2489.1,233.9 L2493.2,231.7 L2497.4,229.5 L2501.8,227.4 L2506.2,225.3 L2510.8,223.4 L2515.4,221.6 L2520.2,219.8 L2525.0,218.1 L2530.0,216.5 L2535.1,215.0 L2540.3,213.6 L2545.6,212.3 L2551.0,211.1 L2556.6,209.9 L2562.2,208.9 L2568.0,207.9 L2574.0,207.0 L2580.0,206.2 L2586.3,205.6 L2592.7,205.0 L2599.3,204.5 L2606.2,204.0 L2613.4,203.7 L2621.0,203.5 L2629.3,203.3 L2640.0,203.3 L2650.7,203.3 L2659.0,203.5 L2666.6,203.7 L2673.8,204.0 L2680.7,204.5 L2687.3,205.0 L2693.7,205.6 L2700.0,206.2 L2706.0,207.0 L2712.0,207.9 L2717.8,208.9 L2723.4,209.9 L2729.0,211.1 L2734.4,212.3 L2739.7,213.6 L2744.9,215.0 L2750.0,216.5 L2755.0,218.1 L2759.8,219.8 L2764.6,221.6 L2769.2,223.4 L2773.8,225.3 L2778.2,227.4 L2782.6,229.5 L2786.8,231.7 L2790.9,233.9 L2794.9,236.3 L2798.8,238.7 L2802.6,241.2 L2806.3,243.8 L2809.9,246.5 L2813.3,249.3 L2816.7,252.1 L2819.9,255.0 L2823.1,258.0 L2826.1,261.1 L2829.0,264.3 L2831.7,267.5 L2834.4,270.8 L2836.9,274.2 L2839.3,277.7 L2841.6,281.2 L2843.8,284.8 L2845.9,288.5 L2847.8,292.3 L2849.6,296.2 L2851.3,300.1 L2852.9,304.2 L2854.4,308.3 L2855.7,312.5 L2856.9,316.8 L2857.9,321.2 L2858.9,325.8 L2859.7,330.5 L2860.4,335.3 L2861.0,340.3 L2861.4,345.5 L2861.7,351.1 L2861.9,357.1Z" fill="none" stroke="#7fcce2" stroke-width="4" stroke-dasharray="20 16 20 16 4 4 12 16" opacity="0.15"/><ellipse cx="2659" cy="78" rx="223.5" ry="74" fill="none" stroke="#0a0b0d" stroke-width="6"/><line x1="2435.5" y1="78" x2="2435.5" y2="713.5" stroke="#0a0b0d" stroke-width="5.5"/><line x1="2882.5" y1="78" x2="2882.5" y2="713.5" stroke="#0a0b0d" stroke-width="5.5"/><path d="M2435.5,713.5 A223.5,74 0 0 0 2882.5,713.5" fill="none" stroke="#0a0b0d" stroke-width="5.5"/><g transform="matrix(0.18659,-0.02786,0.01041,0.17646,2554.5,523.6)"><use href="#blob"/><path d="M60.0,570.0 A118.8,118.8 0 0 1 105.0,395.0 A76.0,76.0 0 0 1 160.0,290.0 A141.4,141.4 0 0 1 245.0,225.0 A82.0,82.0 0 0 1 330.0,175.0 A128.0,128.0 0 0 1 480.0,100.0 A95.2,95.2 0 0 1 580.0,105.0 A135.5,135.5 0 0 1 760.0,70.0 A106.3,106.3 0 0 1 880.0,245.0 A65.6,65.6 0 0 1 940.0,305.0 A125.0,125.0 0 0 1 1070.0,460.0 A120.4,120.4 0 0 1 1040.0,630.0 A141.1,141.1 0 0 1 890.0,760.0 A104.7,104.7 0 0 1 690.0,820.0 A630.0,630.0 0 0 1 480.0,725.0 A178.9,178.9 0 0 1 330.0,765.0 A361.2,361.2 0 0 1 150.0,755.0 A83.3,83.3 0 0 1 130.0,600.0 A53.6,53.6 0 0 1 60.0,570.0Z" fill="url(#blobfade)"/></g><use href="#abs" color="#0ab4ec" transform="translate(804.5,-24.5)"/><rect x="2961" y="420" width="172" height="10" fill="#0a0b0d"/><path d="M3122,400 L3181,425 L3122,450 L3132,425 Z" fill="#0a0b0d"/><path d="M3383.8,315.1 C3365,316 3345,322 3330,333 C3312,348 3302,368 3297,390 L3292,406 C3286,408 3276,416 3268,425 C3260,435 3256,450 3256,464 L3256,633 L3876,633 L3876,464 C3876,450 3872,435 3864,425 C3856,416 3846,408 3840,406 L3835,390 C3830,368 3820,348 3802,333 C3787,322 3767,316 3747.3,315.1 C3766.5,335 3794,390 3794,470 L3794,629 L3338,629 L3338,470 C3338,390 3352,335 3383.8,315.1 Z" fill="#659db0"/><path d="M3373,629 L3373,485 Q3373,458 3400,458 L3738,458 Q3765,458 3765,485 L3765,629 L3734,629 L3734,488.5 L3403.8,488.5 L3403.8,629 Z" fill="#659db0"/><rect x="3398.3" y="165.8" width="335" height="213.8" fill="#659db0"/><rect x="3422.7" y="190.2" width="286" height="166.2" fill="#ffffff"/><path d="M3422.7,190.2 L3708.7,190.2 L3708.7,234 C3660,252 3600,270 3520,273 C3480,274 3445,270 3422.7,266 Z" fill="#ecf2f5"/><rect x="836" y="1094" width="3052" height="9" fill="#0a0b0d"/><rect x="832" y="1053" width="9" height="48" fill="#0a0b0d"/><rect x="3876.5" y="1050" width="9.5" height="53" fill="#0a0b0d"/><rect x="1695.3" y="1165" width="33.7" height="30" rx="3" fill="#0a0b0d"/><rect x="-11.5" y="-9" width="23" height="18" rx="3" fill="#0a0b0d" transform="translate(1651.5,1192) rotate(-32)"/><rect x="-11.5" y="-9" width="23" height="18" rx="3" fill="#0a0b0d" transform="translate(1772.5,1192) rotate(32)"/><circle cx="1712" cy="1296" r="118.5" fill="#0a0b0d"/><circle cx="1712" cy="1296" r="101" fill="#97c956"/><line x1="1752.0" y1="1226.7" x2="1758.5" y2="1215.5" stroke="#0a0b0d" stroke-width="4"/><line x1="1781.3" y1="1256.0" x2="1792.5" y2="1249.5" stroke="#0a0b0d" stroke-width="4"/><line x1="1792.0" y1="1296.0" x2="1805.0" y2="1296.0" stroke="#0a0b0d" stroke-width="5.5"/><line x1="1781.3" y1="1336.0" x2="1792.5" y2="1342.5" stroke="#0a0b0d" stroke-width="4"/><line x1="1752.0" y1="1365.3" x2="1758.5" y2="1376.5" stroke="#0a0b0d" stroke-width="4"/><line x1="1712.0" y1="1376.0" x2="1712.0" y2="1389.0" stroke="#0a0b0d" stroke-width="5.5"/><line x1="1672.0" y1="1365.3" x2="1665.5" y2="1376.5" stroke="#0a0b0d" stroke-width="4"/><line x1="1642.7" y1="1336.0" x2="1631.5" y2="1342.5" stroke="#0a0b0d" stroke-width="4"/><line x1="1632.0" y1="1296.0" x2="1619.0" y2="1296.0" stroke="#0a0b0d" stroke-width="5.5"/><line x1="1642.7" y1="1256.0" x2="1631.5" y2="1249.5" stroke="#0a0b0d" stroke-width="4"/><line x1="1672.0" y1="1226.7" x2="1665.5" y2="1215.5" stroke="#0a0b0d" stroke-width="4"/><rect x="1706.3" y="1202.4" width="11.3" height="94" fill="#0a0b0d"/><line x1="1712" y1="1296" x2="1664" y2="1213.7" stroke="#0a0b0d" stroke-width="5.5" stroke-linecap="round"/><circle cx="1712" cy="1296" r="10" fill="#0a0b0d"/><g font-family="Liberation Sans, sans-serif" fill="#0a0b0d" stroke="#0a0b0d" stroke-width="0.5"><text x="7.61" y="637" font-size="71.5" textLength="283.45" lengthAdjust="spacingAndGlyphs">Endpoint</text><text x="313.36" y="637" font-size="71.5" textLength="192.12" lengthAdjust="spacingAndGlyphs">Assay</text><text x="223.64" y="716" font-size="71.5" textLength="66.70" lengthAdjust="spacingAndGlyphs">of</text><text x="67.20" y="795" font-size="71.5" textLength="204.37" lengthAdjust="spacingAndGlyphs">Dosed</text><text x="291.09" y="795" font-size="71.5" textLength="156.08" lengthAdjust="spacingAndGlyphs">Cells</text><text x="1664.66" y="917" font-size="71.5" textLength="126.86" lengthAdjust="spacingAndGlyphs">Add</text><text x="1810.61" y="917" font-size="71.5" textLength="232.08" lengthAdjust="spacingAndGlyphs">labeled</text><text x="1685.61" y="997" font-size="71.5" textLength="335.68" lengthAdjust="spacingAndGlyphs">antibodies</text><text x="2481.66" y="918" font-size="71.5" textLength="126.86" lengthAdjust="spacingAndGlyphs">Add</text><text x="2626.97" y="918" font-size="71.5" textLength="179.87" lengthAdjust="spacingAndGlyphs">Lumit</text><text x="2811.43" y="886" font-size="26" textLength="37.71" lengthAdjust="spacingAndGlyphs" stroke="#0a0b0d" stroke-width="0.9">TM</text><text x="2386.40" y="997" font-size="71.5" textLength="299.88" lengthAdjust="spacingAndGlyphs">detection</text><text x="2704.26" y="997" font-size="71.5" textLength="243.49" lengthAdjust="spacingAndGlyphs">reagent</text><text x="3230.15" y="916.8" font-size="71.5" textLength="226.22" lengthAdjust="spacingAndGlyphs">Record</text><text x="3475.54" y="916.8" font-size="71.5" textLength="446.29" lengthAdjust="spacingAndGlyphs">luminescence</text><text x="1881.33" y="1321.7" font-size="103" textLength="227.83" lengthAdjust="spacingAndGlyphs">Total</text><text x="2134.20" y="1321.7" font-size="103" textLength="231.52" lengthAdjust="spacingAndGlyphs">time:</text><text x="2387.73" y="1321.7" font-size="103" textLength="113.27" lengthAdjust="spacingAndGlyphs">30</text><text x="2568.34" y="1321.7" font-size="103" textLength="112.64" lengthAdjust="spacingAndGlyphs">90</text><text x="2708.00" y="1321.7" font-size="103" textLength="366.21" lengthAdjust="spacingAndGlyphs">minutes</text><rect x="2509.5" y="1282.7" width="51" height="9.1" fill="#0a0b0d"/></g>
</svg></body></html>
